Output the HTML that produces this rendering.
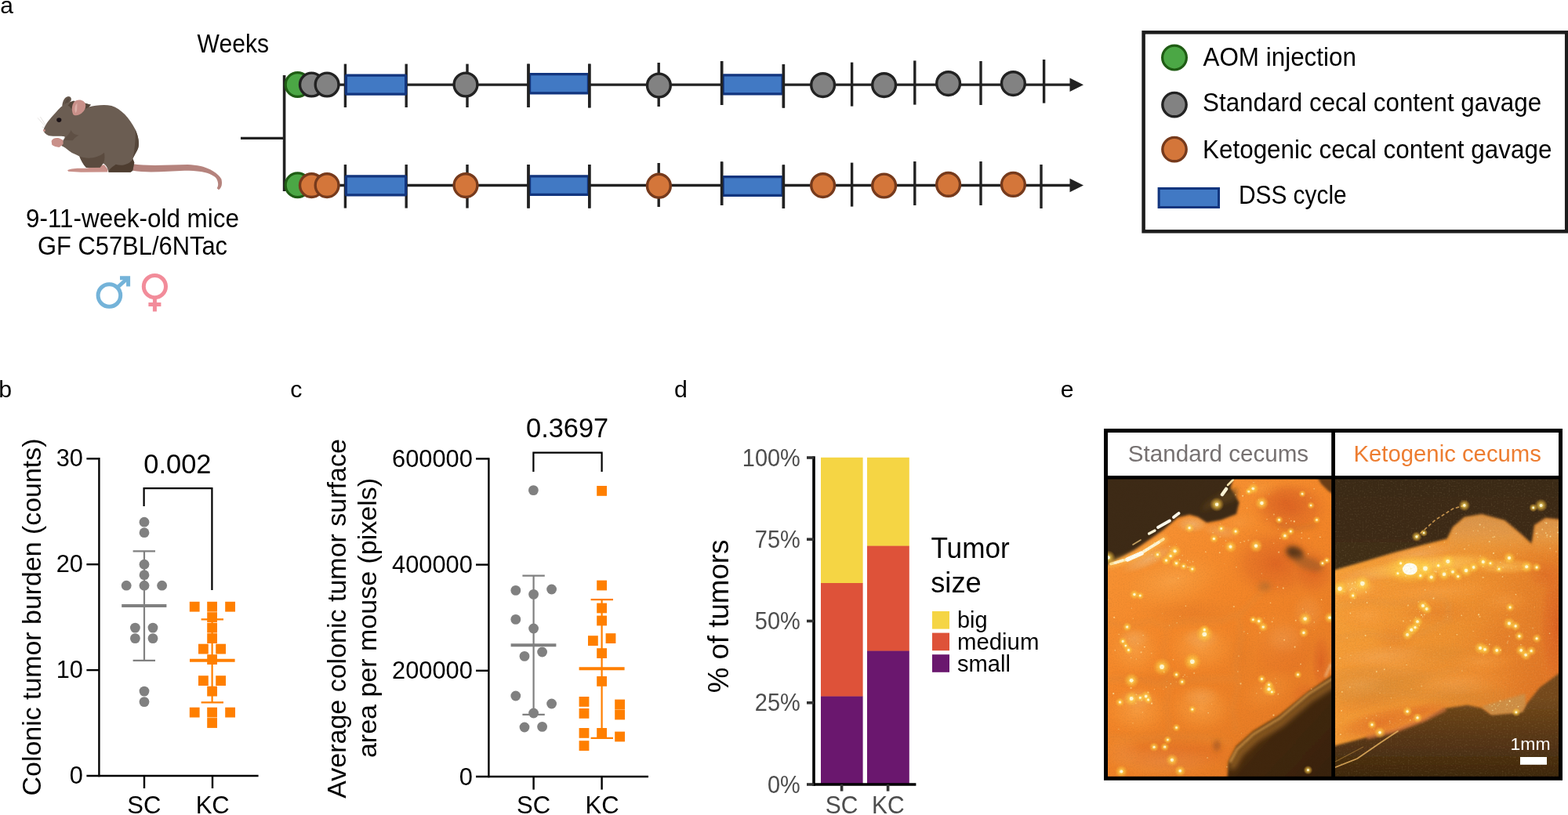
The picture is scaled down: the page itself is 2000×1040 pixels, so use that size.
<!DOCTYPE html>
<html lang="en">
<head>
<meta charset="utf-8">
<title>Cecal content gavage and colonic tumor burden</title>
<style>
html,body{margin:0;padding:0;background:#ffffff;}
body{width:2000px;height:1040px;overflow:hidden;}
svg{display:block;}
text{font-family:"Liberation Sans",Arial,Helvetica,sans-serif;}
</style>
</head>
<body>
<svg width="2000" height="1040" viewBox="0 0 2000 1040">
<rect x="0" y="0" width="2000" height="1040" fill="#ffffff"/>
<g id="panel-labels">
<text x="0.2" y="16.5" font-size="30" fill="#000">a</text>
<text x="-1.7" y="507" font-size="30.3" fill="#000">b</text>
<text x="370.2" y="507" font-size="30.3" fill="#000">c</text>
<text x="860" y="507" font-size="30.3" fill="#000">d</text>
<text x="1352.8" y="507" font-size="30.3" fill="#000">e</text>
</g>
<g id="mouse" transform="translate(40 110) scale(0.13465)">
<path d="M955 735 C1100 760 1300 745 1480 742 C1640 745 1760 810 1800 880 C1812 930 1800 965 1775 982 L1758 968 C1775 940 1772 905 1750 870 C1700 820 1600 800 1450 800 C1300 805 1100 825 960 800 Z" fill="#B5837D"/>
<path d="M342 797 C380 775 450 778 520 778 L690 745 L725 790 L722 814 L470 816 L350 808 Z" fill="#C99089"/>
<path d="M292 185 C295 140 315 100 350 96 C378 96 382 120 374 140 L330 190 Z" fill="#64564B"/>
<path d="M318 170 C322 140 335 118 352 112 C362 116 362 130 355 142 L335 175 Z" fill="#584A3F"/>
<path d="M115 415 C125 370 180 300 230 250 C260 215 290 185 330 160 L400 140 L520 165 L562 176 L545 196 C600 185 680 170 760 185 C850 215 930 300 985 410 C1015 480 1025 540 1012 585 C995 630 970 660 962 690 L975 725 L960 800 L940 816 L732 816 C725 790 722 760 680 730 L650 770 L520 772 C490 745 470 700 455 665 C430 650 390 640 360 615 C335 595 310 575 285 565 L300 515 C310 500 320 490 315 478 C280 470 210 478 170 470 C140 458 118 440 115 415 Z" fill="#6B5D52"/>
<path d="M455 665 C520 690 620 690 690 630 C700 680 690 720 680 735 L650 770 L520 772 C490 745 470 700 455 665 Z" fill="#55463A" opacity="0.75"/>
<path d="M732 816 C730 790 760 770 800 740 C860 760 930 740 962 690 L975 725 L960 800 L940 816 Z" fill="#4E3D30"/>
<path d="M985 410 C1015 480 1025 540 1012 585 C995 630 970 660 962 690 C975 610 990 520 985 410 Z" fill="#55463A"/>
<path d="M330 480 C360 450 370 430 375 415 C390 450 420 460 450 465 C420 480 400 505 390 515 L310 510 Z" fill="#55463A" opacity="0.55"/>
<path d="M372 150 L405 138 L398 200 L380 215 L360 190 L345 185 Z" fill="#55463A"/>
<path d="M505 160 L565 176 L540 200 L510 215 Z" fill="#55463A"/>
<path d="M395 265 C375 220 385 160 420 138 C460 118 505 135 514 175 C518 215 490 255 450 272 C430 280 405 280 395 265 Z" fill="#C99089"/>
<path d="M420 255 C405 220 410 180 435 160 C430 195 440 225 420 255 Z" fill="#DDB0A8"/>
<path d="M190 520 C200 495 230 485 262 492 L300 510 L302 545 C290 560 275 570 262 580 C240 575 210 570 195 555 Z" fill="#C99089"/>
<circle cx="122" cy="420" r="11" fill="#C99089"/>
<ellipse cx="262" cy="320" rx="23" ry="21" fill="#1a1216"/>
<path d="M130 380 L60 300 M135 370 L85 290 M128 395 L100 385" stroke="#b0a8a0" stroke-width="4" fill="none" opacity="0.6"/>
</g>
<g id="panel-a-text">
<text x="251.6" y="67" font-size="32.8" fill="#000" textLength="91.4" lengthAdjust="spacingAndGlyphs">Weeks</text>
<text x="169" y="290" font-size="32.6" fill="#000" text-anchor="middle" textLength="272" lengthAdjust="spacingAndGlyphs">9-11-week-old mice</text>
<text x="169" y="325" font-size="32.6" fill="#000" text-anchor="middle" textLength="242" lengthAdjust="spacingAndGlyphs">GF C57BL/6NTac</text>
</g>
<g id="sex-symbols" fill="none" stroke-linecap="butt">
<circle cx="139.4" cy="377" r="14.3" stroke="#74B3D9" stroke-width="5"/>
<path d="M149.5 367 L163.5 354.5" stroke="#74B3D9" stroke-width="5"/>
<path d="M153 354.8 H163.6 V365.5" stroke="#74B3D9" stroke-width="5" stroke-linejoin="miter"/>
<circle cx="197.4" cy="365.6" r="14.1" stroke="#F28C9A" stroke-width="5"/>
<path d="M197.4 379.5 V397.6 M189.4 388.6 H205.4" stroke="#F28C9A" stroke-width="5"/>
</g>
<g id="timeline" stroke-linecap="butt">
<path d="M307 176.4 H362.6" stroke="#222222" stroke-width="3.4" fill="none"/>
<path d="M362.6 96 V244" stroke="#222222" stroke-width="3.6" fill="none"/>
<path d="M362.6 108.2 H1366" stroke="#222222" stroke-width="3.3" fill="none"/>
<path d="M1364.5 99.4 L1382 108.2 L1364.5 117.0 Z" fill="#222222"/>
<path d="M440.4 81.6 V137" stroke="#222222" stroke-width="3.4" fill="none"/>
<path d="M518.2 81.6 V137" stroke="#222222" stroke-width="3.4" fill="none"/>
<path d="M596 81.6 V137" stroke="#222222" stroke-width="3.4" fill="none"/>
<path d="M674 81.6 V137" stroke="#222222" stroke-width="3.4" fill="none"/>
<path d="M751.8 81.6 V137.4" stroke="#222222" stroke-width="3.4" fill="none"/>
<path d="M840.2 80 V136" stroke="#222222" stroke-width="3.4" fill="none"/>
<path d="M920.6 78 V134" stroke="#222222" stroke-width="3.4" fill="none"/>
<path d="M999.4 82 V137.6" stroke="#222222" stroke-width="3.4" fill="none"/>
<path d="M1086.6 79.6 V135.6" stroke="#222222" stroke-width="3.4" fill="none"/>
<path d="M1166.8 77.4 V133.6" stroke="#222222" stroke-width="3.4" fill="none"/>
<path d="M1251 78 V134" stroke="#222222" stroke-width="3.4" fill="none"/>
<path d="M1331.6 76 V131.6" stroke="#222222" stroke-width="3.4" fill="none"/>
<rect x="441.4" y="96.1" width="76.2" height="24.1" rx="1" fill="#4179C4" stroke="#12357E" stroke-width="3.2"/>
<rect x="675.6" y="94.7" width="74.8" height="24.1" rx="1" fill="#4179C4" stroke="#12357E" stroke-width="3.2"/>
<rect x="922.2" y="95.8" width="75.8" height="24.0" rx="1" fill="#4179C4" stroke="#12357E" stroke-width="3.2"/>
<path d="M674 81.6 V137" stroke="#222222" stroke-width="3.4" fill="none"/>
<path d="M751.8 81.6 V137.4" stroke="#222222" stroke-width="3.4" fill="none"/>
<path d="M920.6 78 V134" stroke="#222222" stroke-width="3.4" fill="none"/>
<path d="M999.4 82 V137.6" stroke="#222222" stroke-width="3.4" fill="none"/>
<circle cx="379.6" cy="108.0" r="15.4" fill="#4BA745" stroke="#1F5C14" stroke-width="3.2"/>
<circle cx="397.4" cy="108" r="14.9" fill="#828282" stroke="#222222" stroke-width="3.4"/>
<circle cx="417.1" cy="108" r="14.9" fill="#828282" stroke="#222222" stroke-width="3.4"/>
<circle cx="594" cy="108" r="14.9" fill="#828282" stroke="#222222" stroke-width="3.4"/>
<circle cx="840.4" cy="109" r="14.9" fill="#828282" stroke="#222222" stroke-width="3.4"/>
<circle cx="1049.6" cy="108.6" r="14.9" fill="#828282" stroke="#222222" stroke-width="3.4"/>
<circle cx="1127.6" cy="108.6" r="14.9" fill="#828282" stroke="#222222" stroke-width="3.4"/>
<circle cx="1209.6" cy="106.6" r="14.9" fill="#828282" stroke="#222222" stroke-width="3.4"/>
<circle cx="1292.4" cy="106.6" r="14.9" fill="#828282" stroke="#222222" stroke-width="3.4"/>
<path d="M362.6 236.5 H1366" stroke="#222222" stroke-width="3.3" fill="none"/>
<path d="M1364.5 227.7 L1382 236.5 L1364.5 245.3 Z" fill="#222222"/>
<path d="M440.4 210 V265.6" stroke="#222222" stroke-width="3.4" fill="none"/>
<path d="M518.2 210 V265.6" stroke="#222222" stroke-width="3.4" fill="none"/>
<path d="M596 210 V265.6" stroke="#222222" stroke-width="3.4" fill="none"/>
<path d="M674 210 V265.6" stroke="#222222" stroke-width="3.4" fill="none"/>
<path d="M751.8 210 V265.6" stroke="#222222" stroke-width="3.4" fill="none"/>
<path d="M840.2 208 V264" stroke="#222222" stroke-width="3.4" fill="none"/>
<path d="M920.6 206.4 V262" stroke="#222222" stroke-width="3.4" fill="none"/>
<path d="M999.4 210.4 V266" stroke="#222222" stroke-width="3.4" fill="none"/>
<path d="M1086.6 207.6 V263.6" stroke="#222222" stroke-width="3.4" fill="none"/>
<path d="M1166.8 206 V262" stroke="#222222" stroke-width="3.4" fill="none"/>
<path d="M1251 206 V262" stroke="#222222" stroke-width="3.4" fill="none"/>
<path d="M1328 210 V266" stroke="#222222" stroke-width="3.4" fill="none"/>
<rect x="441.4" y="224.8" width="76.2" height="24.0" rx="1" fill="#4179C4" stroke="#12357E" stroke-width="3.2"/>
<rect x="675.6" y="224.8" width="74.8" height="23.6" rx="1" fill="#4179C4" stroke="#12357E" stroke-width="3.2"/>
<rect x="922.2" y="225.6" width="75.8" height="23.8" rx="1" fill="#4179C4" stroke="#12357E" stroke-width="3.2"/>
<path d="M674 210 V265.6" stroke="#222222" stroke-width="3.4" fill="none"/>
<path d="M751.8 210 V265.6" stroke="#222222" stroke-width="3.4" fill="none"/>
<path d="M920.6 206.4 V262" stroke="#222222" stroke-width="3.4" fill="none"/>
<path d="M999.4 210.4 V266" stroke="#222222" stroke-width="3.4" fill="none"/>
<circle cx="379.6" cy="236.3" r="15.4" fill="#4BA745" stroke="#1F5C14" stroke-width="3.2"/>
<circle cx="397.4" cy="236.6" r="14.9" fill="#D4763A" stroke="#763A1C" stroke-width="3.4"/>
<circle cx="417.1" cy="236.6" r="14.9" fill="#D4763A" stroke="#763A1C" stroke-width="3.4"/>
<circle cx="594" cy="236.6" r="14.9" fill="#D4763A" stroke="#763A1C" stroke-width="3.4"/>
<circle cx="840.4" cy="237.2" r="14.9" fill="#D4763A" stroke="#763A1C" stroke-width="3.4"/>
<circle cx="1049.6" cy="236.6" r="14.9" fill="#D4763A" stroke="#763A1C" stroke-width="3.4"/>
<circle cx="1127.6" cy="237" r="14.9" fill="#D4763A" stroke="#763A1C" stroke-width="3.4"/>
<circle cx="1209.6" cy="235.4" r="14.9" fill="#D4763A" stroke="#763A1C" stroke-width="3.4"/>
<circle cx="1292.4" cy="235.4" r="14.9" fill="#D4763A" stroke="#763A1C" stroke-width="3.4"/>
</g>
<g id="legend-a">
<rect x="1458.6" y="41.3" width="539.6" height="254" fill="#fff" stroke="#1c1c1c" stroke-width="4.5"/>
<circle cx="1498" cy="73.6" r="15.4" fill="#4BA745" stroke="#1F5C14" stroke-width="3.2"/>
<circle cx="1498" cy="133.6" r="15.2" fill="#828282" stroke="#222222" stroke-width="3.4"/>
<circle cx="1498" cy="190.6" r="15.2" fill="#D4763A" stroke="#763A1C" stroke-width="3.4"/>
<rect x="1478.1" y="240.5" width="76.4" height="24" fill="#4179C4" stroke="#12357E" stroke-width="3"/>
<text x="1534.5" y="84" font-size="32.6" fill="#000" textLength="195.4" lengthAdjust="spacingAndGlyphs">AOM injection</text>
<text x="1534.1" y="142.4" font-size="32.6" fill="#000" textLength="432" lengthAdjust="spacingAndGlyphs">Standard cecal content gavage</text>
<text x="1534" y="201.6" font-size="32.6" fill="#000" textLength="445.4" lengthAdjust="spacingAndGlyphs">Ketogenic cecal content gavage</text>
<text x="1579.9" y="259.6" font-size="32.6" fill="#000" textLength="137.8" lengthAdjust="spacingAndGlyphs">DSS cycle</text>
</g>
<g id="panel-b">
<path d="M126.4 584.1 V991.2" stroke="#000" stroke-width="2.4" fill="none"/>
<path d="M110.4 990.0 H329.6" stroke="#000" stroke-width="2.4" fill="none"/>
<path d="M110.4 585.3 H126.4" stroke="#000" stroke-width="2.4" fill="none"/>
<path d="M110.4 720.2 H126.4" stroke="#000" stroke-width="2.4" fill="none"/>
<path d="M110.4 855.1 H126.4" stroke="#000" stroke-width="2.4" fill="none"/>
<text x="105.8" y="595.2" font-size="30.7" fill="#000" text-anchor="end">30</text>
<text x="105.8" y="730.1" font-size="30.7" fill="#000" text-anchor="end">20</text>
<text x="105.8" y="865.0" font-size="30.7" fill="#000" text-anchor="end">10</text>
<text x="105.8" y="999.9" font-size="30.7" fill="#000" text-anchor="end">0</text>
<path d="M184 990.0 V1006" stroke="#000" stroke-width="2.4" fill="none"/>
<path d="M271 990.0 V1006" stroke="#000" stroke-width="2.4" fill="none"/>
<text x="183.8" y="1037.8" font-size="31" fill="#000" text-anchor="middle">SC</text>
<text x="271.2" y="1037.8" font-size="31" fill="#000" text-anchor="middle">KC</text>
<text transform="translate(52.4 787.5) rotate(-90)" font-size="33.9" fill="#000" text-anchor="middle">Colonic tumor burden (counts)</text>
<text x="226.4" y="603.6" font-size="34.4" fill="#000" text-anchor="middle">0.002</text>
<path d="M183.6 646 V623.2 H270.4 V753" stroke="#000" stroke-width="2.2" fill="none" stroke-linejoin="miter"/>
<path d="M184 703.4 V842.8 M169.6 703.4 H198 M169.6 842.8 H198" stroke="#808080" stroke-width="2.2" fill="none"/>
<path d="M155.2 773 H212.4" stroke="#808080" stroke-width="4" fill="none"/>
<circle cx="184" cy="666.2" r="6.4" fill="#808080"/>
<circle cx="184" cy="679.7" r="6.4" fill="#808080"/>
<circle cx="184" cy="720.2" r="6.4" fill="#808080"/>
<circle cx="184" cy="733.7" r="6.4" fill="#808080"/>
<circle cx="161.2" cy="747.2" r="6.4" fill="#808080"/>
<circle cx="184" cy="747.2" r="6.4" fill="#808080"/>
<circle cx="206.6" cy="747.2" r="6.4" fill="#808080"/>
<circle cx="172.4" cy="801.1" r="6.4" fill="#808080"/>
<circle cx="195" cy="801.1" r="6.4" fill="#808080"/>
<circle cx="172.4" cy="814.6" r="6.4" fill="#808080"/>
<circle cx="195" cy="814.6" r="6.4" fill="#808080"/>
<circle cx="184" cy="882.1" r="6.4" fill="#808080"/>
<circle cx="184" cy="895.6" r="6.4" fill="#808080"/>
<path d="M270.6 790.4 V896.4 M256.6 790.4 H285 M256.6 896.4 H285" stroke="#FF7F00" stroke-width="2.2" fill="none"/>
<path d="M242 842.8 H299.6" stroke="#FF7F00" stroke-width="4" fill="none"/>
<rect x="241.8" y="767.8" width="12.8" height="12.8" fill="#FF7F00"/>
<rect x="264.2" y="767.8" width="12.8" height="12.8" fill="#FF7F00"/>
<rect x="287.2" y="767.8" width="12.8" height="12.8" fill="#FF7F00"/>
<rect x="264.2" y="781.2" width="12.8" height="12.8" fill="#FF7F00"/>
<rect x="264.2" y="794.7" width="12.8" height="12.8" fill="#FF7F00"/>
<rect x="264.2" y="808.2" width="12.8" height="12.8" fill="#FF7F00"/>
<rect x="253.0" y="821.7" width="12.8" height="12.8" fill="#FF7F00"/>
<rect x="275.2" y="821.7" width="12.8" height="12.8" fill="#FF7F00"/>
<rect x="264.2" y="835.2" width="12.8" height="12.8" fill="#FF7F00"/>
<rect x="253.0" y="862.2" width="12.8" height="12.8" fill="#FF7F00"/>
<rect x="275.2" y="862.2" width="12.8" height="12.8" fill="#FF7F00"/>
<rect x="264.2" y="875.7" width="12.8" height="12.8" fill="#FF7F00"/>
<rect x="241.8" y="902.7" width="12.8" height="12.8" fill="#FF7F00"/>
<rect x="264.2" y="902.7" width="12.8" height="12.8" fill="#FF7F00"/>
<rect x="287.2" y="902.7" width="12.8" height="12.8" fill="#FF7F00"/>
<rect x="264.2" y="916.1" width="12.8" height="12.8" fill="#FF7F00"/>
</g>
<g id="panel-c">
<path d="M623.4 584.2 V992.2" stroke="#000" stroke-width="2.4" fill="none"/>
<path d="M607 991.0 H827" stroke="#000" stroke-width="2.4" fill="none"/>
<path d="M607 585.4 H623.4" stroke="#000" stroke-width="2.4" fill="none"/>
<path d="M607 720.6 H623.4" stroke="#000" stroke-width="2.4" fill="none"/>
<path d="M607 855.8 H623.4" stroke="#000" stroke-width="2.4" fill="none"/>
<text x="602.8" y="595.9" font-size="30.8" fill="#000" text-anchor="end">600000</text>
<text x="602.8" y="731.1" font-size="30.8" fill="#000" text-anchor="end">400000</text>
<text x="602.8" y="866.3" font-size="30.8" fill="#000" text-anchor="end">200000</text>
<text x="602.8" y="1001.5" font-size="30.8" fill="#000" text-anchor="end">0</text>
<path d="M680.6 991.0 V1007.6" stroke="#000" stroke-width="2.4" fill="none"/>
<path d="M767.6 991.0 V1007.6" stroke="#000" stroke-width="2.4" fill="none"/>
<text x="680.6" y="1037.6" font-size="31" fill="#000" text-anchor="middle">SC</text>
<text x="768" y="1037.6" font-size="31" fill="#000" text-anchor="middle">KC</text>
<text transform="translate(441 789.5) rotate(-90)" font-size="34" fill="#000" text-anchor="middle">Average colonic tumor surface</text>
<text transform="translate(480.4 788.5) rotate(-90)" font-size="34" fill="#000" text-anchor="middle">area per mouse (pixels)</text>
<text x="723.6" y="558" font-size="34.4" fill="#000" text-anchor="middle">0.3697</text>
<path d="M680.4 602 V577.6 H767.6 V602" stroke="#000" stroke-width="2.2" fill="none" stroke-linejoin="miter"/>
<path d="M680.6 734.6 V911.8 M666.4 734.6 H694.8 M666.4 911.8 H694.8" stroke="#808080" stroke-width="2.2" fill="none"/>
<path d="M651.6 823.2 H709.4" stroke="#808080" stroke-width="4" fill="none"/>
<circle cx="680.4" cy="625.6" r="6.4" fill="#808080"/>
<circle cx="657.8" cy="753.4" r="6.4" fill="#808080"/>
<circle cx="680.6" cy="758.4" r="6.4" fill="#808080"/>
<circle cx="703.6" cy="752" r="6.4" fill="#808080"/>
<circle cx="657.8" cy="790.4" r="6.4" fill="#808080"/>
<circle cx="680.6" cy="802" r="6.4" fill="#808080"/>
<circle cx="691.6" cy="832" r="6.4" fill="#808080"/>
<circle cx="669" cy="837.4" r="6.4" fill="#808080"/>
<circle cx="657.8" cy="888" r="6.4" fill="#808080"/>
<circle cx="703.6" cy="898" r="6.4" fill="#808080"/>
<circle cx="680.6" cy="910" r="6.4" fill="#808080"/>
<circle cx="669" cy="928" r="6.4" fill="#808080"/>
<circle cx="691.6" cy="927.4" r="6.4" fill="#808080"/>
<path d="M767.6 765.2 V941.8 M753.6 765.2 H782 M753.6 941.8 H782" stroke="#FF7F00" stroke-width="2.2" fill="none"/>
<path d="M738.6 853.2 H796.6" stroke="#FF7F00" stroke-width="4" fill="none"/>
<rect x="761.2" y="620.0" width="12.8" height="12.8" fill="#FF7F00"/>
<rect x="761.2" y="740.6" width="12.8" height="12.8" fill="#FF7F00"/>
<rect x="761.2" y="769.6" width="12.8" height="12.8" fill="#FF7F00"/>
<rect x="761.2" y="785.6" width="12.8" height="12.8" fill="#FF7F00"/>
<rect x="750.0" y="811.2" width="12.8" height="12.8" fill="#FF7F00"/>
<rect x="772.6" y="808.2" width="12.8" height="12.8" fill="#FF7F00"/>
<rect x="761.2" y="827.2" width="12.8" height="12.8" fill="#FF7F00"/>
<rect x="761.2" y="863.0" width="12.8" height="12.8" fill="#FF7F00"/>
<rect x="738.6" y="889.0" width="12.8" height="12.8" fill="#FF7F00"/>
<rect x="738.6" y="904.0" width="12.8" height="12.8" fill="#FF7F00"/>
<rect x="784.2" y="892.6" width="12.8" height="12.8" fill="#FF7F00"/>
<rect x="784.2" y="905.6" width="12.8" height="12.8" fill="#FF7F00"/>
<rect x="738.6" y="929.0" width="12.8" height="12.8" fill="#FF7F00"/>
<rect x="761.2" y="929.0" width="12.8" height="12.8" fill="#FF7F00"/>
<rect x="784.2" y="933.6" width="12.8" height="12.8" fill="#FF7F00"/>
<rect x="738.6" y="945.2" width="12.8" height="12.8" fill="#FF7F00"/>
</g>
<g id="panel-d">
<rect x="1047" y="583.8" width="53.6" height="160.5" fill="#F5D544"/>
<rect x="1047" y="744.0" width="53.6" height="144.9" fill="#DE5239"/>
<rect x="1047" y="888.6" width="53.6" height="112.7" fill="#6A176E"/>
<rect x="1106" y="583.8" width="53.8" height="113.1" fill="#F5D544"/>
<rect x="1106" y="696.6" width="53.8" height="134.3" fill="#DE5239"/>
<rect x="1106" y="830.6" width="53.8" height="170.7" fill="#6A176E"/>
<path d="M1038 582.2 V1002.8" stroke="#000" stroke-width="3.6" fill="none"/>
<path d="M1036.2 1001.0 H1168.4" stroke="#000" stroke-width="3.6" fill="none"/>
<path d="M1029 584.0 H1038" stroke="#333" stroke-width="3.6" fill="none"/>
<text x="1020.8" y="594.5" font-size="31.3" fill="#4D4D4D" text-anchor="end" textLength="74.0" lengthAdjust="spacingAndGlyphs">100%</text>
<path d="M1029 688.2 H1038" stroke="#333" stroke-width="3.6" fill="none"/>
<text x="1020.8" y="698.8" font-size="31.3" fill="#4D4D4D" text-anchor="end" textLength="58.0" lengthAdjust="spacingAndGlyphs">75%</text>
<path d="M1029 792.5 H1038" stroke="#333" stroke-width="3.6" fill="none"/>
<text x="1020.8" y="803.0" font-size="31.3" fill="#4D4D4D" text-anchor="end" textLength="58.0" lengthAdjust="spacingAndGlyphs">50%</text>
<path d="M1029 896.8 H1038" stroke="#333" stroke-width="3.6" fill="none"/>
<text x="1020.8" y="907.2" font-size="31.3" fill="#4D4D4D" text-anchor="end" textLength="58.0" lengthAdjust="spacingAndGlyphs">25%</text>
<path d="M1029 1001.0 H1038" stroke="#333" stroke-width="3.6" fill="none"/>
<text x="1020.8" y="1011.5" font-size="31.3" fill="#4D4D4D" text-anchor="end" textLength="41.8" lengthAdjust="spacingAndGlyphs">0%</text>
<path d="M1073.6 1001.0 V1009.6" stroke="#333" stroke-width="3.6" fill="none"/>
<path d="M1132.6 1001.0 V1009.6" stroke="#333" stroke-width="3.6" fill="none"/>
<text x="1073.6" y="1037.7" font-size="31.3" fill="#4D4D4D" text-anchor="middle" textLength="41.7" lengthAdjust="spacingAndGlyphs">SC</text>
<text x="1132.8" y="1037.7" font-size="31.3" fill="#4D4D4D" text-anchor="middle" textLength="41.7" lengthAdjust="spacingAndGlyphs">KC</text>
<text transform="translate(929.4 786.5) rotate(-90)" font-size="36.7" fill="#000" text-anchor="middle">% of tumors</text>
<text x="1187.4" y="712" font-size="36" fill="#000" textLength="100.4" lengthAdjust="spacingAndGlyphs">Tumor</text>
<text x="1187.2" y="756" font-size="36" fill="#000" textLength="64.6" lengthAdjust="spacingAndGlyphs">size</text>
<rect x="1189" y="780.0" width="22" height="22.6" fill="#F5D544"/>
<text x="1221" y="801" font-size="28.6" fill="#000" textLength="38.6" lengthAdjust="spacingAndGlyphs">big</text>
<rect x="1189" y="807.6" width="22" height="22.6" fill="#DE5239"/>
<text x="1221" y="829" font-size="28.6" fill="#000" textLength="104.4" lengthAdjust="spacingAndGlyphs">medium</text>
<rect x="1189" y="835.2" width="22" height="22.6" fill="#6A176E"/>
<text x="1221" y="857" font-size="28.6" fill="#000" textLength="68.0" lengthAdjust="spacingAndGlyphs">small</text>
</g>
<g id="panel-e">
<defs>
<clipPath id="clipL"><rect x="1412.5" y="611" width="286.5" height="381"/></clipPath>
<clipPath id="clipR"><rect x="1702.5" y="611" width="286.5" height="381"/></clipPath>
<filter id="bl1" filterUnits="userSpaceOnUse" x="1400" y="600" width="600" height="400"><feGaussianBlur stdDeviation="0.7"/></filter>
<filter id="bl2" filterUnits="userSpaceOnUse" x="1400" y="600" width="600" height="400"><feGaussianBlur stdDeviation="1.6"/></filter>
<filter id="bl3" filterUnits="userSpaceOnUse" x="1400" y="600" width="600" height="400"><feGaussianBlur stdDeviation="3"/></filter>
<filter id="bl5" filterUnits="userSpaceOnUse" x="1400" y="600" width="600" height="400"><feGaussianBlur stdDeviation="5"/></filter>
<filter id="grain" filterUnits="userSpaceOnUse" x="1400" y="600" width="600" height="400">
<feTurbulence type="fractalNoise" baseFrequency="0.6" numOctaves="2" seed="11" result="n"/>
<feColorMatrix in="n" type="matrix" values="0 0 0 0 0.08  0 0 0 0 0.05  0 0 0 0 0.02  1.6 1.6 0 0 -1.45"/>
</filter>
<filter id="grainL" filterUnits="userSpaceOnUse" x="1400" y="600" width="600" height="400">
<feTurbulence type="fractalNoise" baseFrequency="0.5" numOctaves="2" seed="3" result="n"/>
<feColorMatrix in="n" type="matrix" values="0 0 0 0 1  0 0 0 0 0.85  0 0 0 0 0.5  1.5 1.5 0 0 -1.5"/>
</filter>
<linearGradient id="gL" gradientUnits="userSpaceOnUse" x1="1413" y1="640" x2="1698" y2="960">
<stop offset="0" stop-color="#F99838"/><stop offset="0.45" stop-color="#F48628"/><stop offset="1" stop-color="#E27824"/>
</linearGradient>
<linearGradient id="gR" gradientUnits="userSpaceOnUse" x1="1703" y1="700" x2="1988" y2="800">
<stop offset="0" stop-color="#F7A038"/><stop offset="0.6" stop-color="#EE902E"/><stop offset="1" stop-color="#E27826"/>
</linearGradient>
<linearGradient id="dkBR" gradientUnits="userSpaceOnUse" x1="1590" y1="900" x2="1690" y2="990">
<stop offset="0" stop-color="#6A3E12"/><stop offset="0.4" stop-color="#41270F"/><stop offset="1" stop-color="#38220E"/>
</linearGradient>
<linearGradient id="dkRB" gradientUnits="userSpaceOnUse" x1="0" y1="890" x2="0" y2="992">
<stop offset="0" stop-color="#744A1C"/><stop offset="0.45" stop-color="#5A3814"/><stop offset="1" stop-color="#3E280F"/>
</linearGradient>
<linearGradient id="dkRT" gradientUnits="userSpaceOnUse" x1="0" y1="611" x2="0" y2="720">
<stop offset="0" stop-color="#3A2A16"/><stop offset="1" stop-color="#402D16"/>
</linearGradient>
<radialGradient id="lobe"><stop offset="0" stop-color="#FAA448" stop-opacity="0.8"/><stop offset="0.55" stop-color="#F79838" stop-opacity="0.5"/><stop offset="1" stop-color="#F48C2C" stop-opacity="0"/></radialGradient>
<radialGradient id="lobeC"><stop offset="0" stop-color="#F2B470" stop-opacity="0.85"/><stop offset="0.6" stop-color="#F2A656" stop-opacity="0.6"/><stop offset="1" stop-color="#F29840" stop-opacity="0"/></radialGradient>
<radialGradient id="lobeY"><stop offset="0" stop-color="#FFCC60" stop-opacity="1"/><stop offset="0.6" stop-color="#FBB448" stop-opacity="0.8"/><stop offset="1" stop-color="#F6A238" stop-opacity="0"/></radialGradient>
<radialGradient id="redz"><stop offset="0" stop-color="#DC6222" stop-opacity="0.95"/><stop offset="0.6" stop-color="#E26E26" stop-opacity="0.6"/><stop offset="1" stop-color="#EA802A" stop-opacity="0"/></radialGradient>
<radialGradient id="oran"><stop offset="0" stop-color="#E47A28" stop-opacity="0.9"/><stop offset="0.6" stop-color="#E8822A" stop-opacity="0.55"/><stop offset="1" stop-color="#EE8A2E" stop-opacity="0"/></radialGradient>
<linearGradient id="blob" gradientUnits="userSpaceOnUse" x1="0" y1="655" x2="0" y2="712">
<stop offset="0" stop-color="#D8934A"/><stop offset="0.5" stop-color="#E69A46"/><stop offset="1" stop-color="#F09C3C" stop-opacity="0"/>
</linearGradient>
<radialGradient id="brn"><stop offset="0" stop-color="#D68A34" stop-opacity="0.9"/><stop offset="0.6" stop-color="#DC8C34" stop-opacity="0.55"/><stop offset="1" stop-color="#E49034" stop-opacity="0"/></radialGradient>
<radialGradient id="glow"><stop offset="0" stop-color="#FFEE90" stop-opacity="0.95"/><stop offset="0.45" stop-color="#FFD048" stop-opacity="0.6"/><stop offset="1" stop-color="#FFB430" stop-opacity="0"/></radialGradient>
</defs>
<rect x="1410.5" y="549.5" width="580" height="443.8" fill="#ffffff"/>
<g clip-path="url(#clipL)">
<rect x="1410" y="608" width="292" height="388" fill="url(#gL)"/>
<ellipse cx="1627.8" cy="718.8" rx="62.8" ry="48.0" fill="url(#redz)" opacity="0.9" transform="rotate(0 1627.8 718.8)"/>
<ellipse cx="1646.3" cy="648.6" rx="51.7" ry="36.9" fill="url(#redz)" opacity="1" transform="rotate(0 1646.3 648.6)"/>
<ellipse cx="1638.9" cy="641.2" rx="40.6" ry="25.8" fill="url(#redz)" opacity="0.7" transform="rotate(0 1638.9 641.2)"/>
<ellipse cx="1675.8" cy="729.8" rx="29.5" ry="33.2" fill="url(#redz)" opacity="0.8" transform="rotate(0 1675.8 729.8)"/>
<ellipse cx="1685.0" cy="844.3" rx="14.8" ry="40.6" fill="url(#redz)" opacity="0.9" transform="rotate(0 1685.0 844.3)"/>
<ellipse cx="1664.7" cy="888.6" rx="22.2" ry="22.2" fill="url(#redz)" opacity="0.5" transform="rotate(-30 1664.7 888.6)"/>
<ellipse cx="1494.9" cy="962.4" rx="96.0" ry="25.8" fill="url(#redz)" opacity="0.6" transform="rotate(0 1494.9 962.4)"/>
<ellipse cx="1638.9" cy="829.5" rx="48.0" ry="44.3" fill="url(#redz)" opacity="0.45" transform="rotate(0 1638.9 829.5)"/>
<ellipse cx="1520.8" cy="781.5" rx="73.8" ry="22.2" fill="url(#oran)" opacity="0.6" transform="rotate(0 1520.8 781.5)"/>
<ellipse cx="1583.5" cy="836.9" rx="22.2" ry="44.3" fill="url(#oran)" opacity="0.5" transform="rotate(0 1583.5 836.9)"/>
<ellipse cx="1483.8" cy="866.4" rx="81.2" ry="14.8" fill="url(#oran)" opacity="0.5" transform="rotate(0 1483.8 866.4)"/>
<ellipse cx="1494.9" cy="940.3" rx="73.8" ry="14.8" fill="url(#oran)" opacity="0.4" transform="rotate(0 1494.9 940.3)"/>
<ellipse cx="1494.9" cy="740.9" rx="77.5" ry="38.8" fill="url(#lobe)" opacity="1" transform="rotate(-12 1494.9 740.9)"/>
<ellipse cx="1446.9" cy="829.5" rx="36.9" ry="35.1" fill="url(#lobe)" opacity="0.9" transform="rotate(0 1446.9 829.5)"/>
<ellipse cx="1531.8" cy="825.8" rx="48.0" ry="35.1" fill="url(#lobe)" opacity="0.9" transform="rotate(0 1531.8 825.8)"/>
<ellipse cx="1450.6" cy="907.0" rx="44.3" ry="33.2" fill="url(#lobe)" opacity="0.9" transform="rotate(0 1450.6 907.0)"/>
<ellipse cx="1531.8" cy="903.4" rx="44.3" ry="33.2" fill="url(#lobe)" opacity="0.9" transform="rotate(0 1531.8 903.4)"/>
<ellipse cx="1631.5" cy="814.7" rx="44.3" ry="40.6" fill="url(#lobe)" opacity="0.4" transform="rotate(0 1631.5 814.7)"/>
<ellipse cx="1616.7" cy="881.2" rx="40.6" ry="25.8" fill="url(#lobe)" opacity="0.45" transform="rotate(-30 1616.7 881.2)"/>
<ellipse cx="1579.8" cy="667.1" rx="33.2" ry="18.5" fill="url(#lobe)" opacity="0.5" transform="rotate(-10 1579.8 667.1)"/>
<ellipse cx="1605.7" cy="622.8" rx="29.5" ry="14.8" fill="url(#lobe)" opacity="0.4" transform="rotate(0 1605.7 622.8)"/>
<ellipse cx="1520.8" cy="668.9" rx="22.2" ry="11.8" fill="url(#lobeC)" opacity="1" transform="rotate(0 1520.8 668.9)"/>
<ellipse cx="1465.4" cy="713.2" rx="40.6" ry="11.1" fill="url(#lobeC)" opacity="1" transform="rotate(-24 1465.4 713.2)"/>
<ellipse cx="1557.7" cy="678.1" rx="25.8" ry="10.3" fill="url(#lobeC)" opacity="0.6" transform="rotate(10 1557.7 678.1)"/>
<ellipse cx="1668.4" cy="781.5" rx="22.2" ry="25.8" fill="url(#lobeC)" opacity="0.3" transform="rotate(0 1668.4 781.5)"/>
<ellipse cx="1638.9" cy="814.7" rx="25.8" ry="22.2" fill="url(#lobeC)" opacity="0.25" transform="rotate(0 1638.9 814.7)"/>
<ellipse cx="1483.8" cy="971.7" rx="73.8" ry="20.3" fill="url(#lobeC)" opacity="0.3" transform="rotate(0 1483.8 971.7)"/>
<ellipse cx="1432.2" cy="958.7" rx="25.8" ry="22.2" fill="url(#lobeC)" opacity="0.2" transform="rotate(0 1432.2 958.7)"/>
<ellipse cx="1531.8" cy="814.7" rx="25.8" ry="14.8" fill="url(#lobeC)" opacity="0.5" transform="rotate(0 1531.8 814.7)"/>
<ellipse cx="1446.9" cy="814.7" rx="22.2" ry="14.8" fill="url(#lobeC)" opacity="0.5" transform="rotate(0 1446.9 814.7)"/>
<ellipse cx="1450.6" cy="892.3" rx="25.8" ry="14.8" fill="url(#lobeC)" opacity="0.5" transform="rotate(0 1450.6 892.3)"/>
<ellipse cx="1531.8" cy="888.6" rx="25.8" ry="14.8" fill="url(#lobeC)" opacity="0.4" transform="rotate(0 1531.8 888.6)"/>
<g filter="url(#bl3)" fill="none" stroke="#E08A38" stroke-width="3.5" opacity="0.5" stroke-linecap="round">
<path d="M1413.7 792.6 L1432.2 800.0 L1465.4 792.6 L1487.5 800.0 L1513.4 792.6 L1557.7 792.6 L1583.5 781.5 L1609.4 755.7"/>
<path d="M1489.4 800.0 L1483.8 829.5 L1491.2 859.1 L1483.8 873.8"/>
<path d="M1413.7 866.4 L1446.9 866.4 L1483.8 873.8 L1531.8 866.4 L1576.1 866.4"/>
<path d="M1579.8 785.2 L1583.5 814.7 L1576.1 848.0 L1579.8 873.8 L1572.4 903.4 L1576.1 932.9"/>
<path d="M1413.7 940.3 L1446.9 942.1 L1491.2 940.3 L1531.8 940.3 L1568.8 947.7"/>
<path d="M1491.2 877.5 L1487.5 903.4 L1493.1 932.9"/>
</g>
<g filter="url(#bl3)">
<ellipse cx="1651.8" cy="705.8" rx="12" ry="8" fill="#4E3016" opacity="0.9" transform="rotate(25 1651.8 705.8)"/>
<ellipse cx="1668.4" cy="718.8" rx="20" ry="8" fill="#9A5A26" opacity="0.6" transform="rotate(20 1668.4 718.8)"/>
<ellipse cx="1613.1" cy="748.3" rx="8" ry="6" fill="#B87030" opacity="0.7"/>
<ellipse cx="1552.1" cy="951.4" rx="3.5" ry="7" fill="#8F4E20" opacity="0.75"/>
<path d="M1627.8 668.9 L1653.7 674.5 L1679.5 670.8" stroke="#A05A2A" stroke-width="2" fill="none" opacity="0.6"/>
</g>
<g filter="url(#bl2)">
<path d="M1402.6 600.6 L1576.1 600.6 L1569.5 622.8 L1580.6 641.2 L1576.9 656.0 L1557.7 663.4 L1539.2 667.1 L1528.1 659.7 L1517.1 656.7 L1502.3 660.4 L1483.8 676.3 L1446.9 702.1 L1413.0 720.6 L1402.6 726.1 Z" fill="#3E2A14"/>
<path d="M1675.8 600.6 L1705.4 600.6 L1705.4 633.8 L1694.3 626.5 L1685.0 617.2 Z" fill="#6A3E18"/>
<path d="M1705.4 856.1 L1698.0 862.7 L1668.4 883.0 L1631.5 913.0 L1598.3 932.9 L1576.9 952.1 L1566.9 971.7 L1565.1 999.3 L1705.4 999.3 Z" fill="url(#dkBR)"/>
</g>
<g filter="url(#bl3)">
<path d="M1531.8 652.3 L1576.1 637.5 L1578.0 622.8 L1557.7 630.2 L1539.2 641.2 Z" fill="#5E4218" opacity="0.7"/>
</g>
<g filter="url(#bl3)" fill="none" stroke-linecap="round">
<path d="M1701.7 872.0 L1670.3 892.3 L1634.5 922.6 L1602.0 942.1 L1581.7 960.6 L1572.4 977.2" stroke="#9A6426" stroke-width="9" opacity="0.8"/>
</g>
<g filter="url(#bl2)" fill="none" stroke-linecap="round">
<path d="M1699.8 865.7 L1668.4 886.0 L1632.3 916.6 L1599.0 936.6 L1578.0 955.8 L1569.5 971.7" stroke="#D89A48" stroke-width="3" opacity="0.9"/>
<path d="M1697.2 848.0 L1690.6 862.7" stroke="#F4D0A0" stroke-width="2.5" opacity="0.7"/>
</g>
<g filter="url(#bl3)" stroke-linecap="round" fill="none" opacity="0.75">
<path d="M1416 720 L1437 714 L1456 706 L1470 697 L1484 688" stroke="#FFC458" stroke-width="8"/>
</g>
<g filter="url(#bl1)" stroke-linecap="round" fill="none">
<path d="M1417 719.5 L1437 714 L1456 706 L1470 697 L1484 688" stroke="#FFE49C" stroke-width="3.6"/>
<path d="M1438 714 L1456 706" stroke="#FFFDF0" stroke-width="5.5"/>
<path d="M1459 703.5 L1478 692" stroke="#FFF6D8" stroke-width="3.6"/>
<path d="M1422 718.5 L1432 715" stroke="#FFF4D0" stroke-width="3"/>
<path d="M1465.5 681 L1473 677" stroke="#FFF6D8" stroke-width="3.2"/>
<path d="M1477 673 L1492 664.5" stroke="#FFFDF0" stroke-width="3.8"/>
<path d="M1497 660 L1503.5 655" stroke="#FFFDF0" stroke-width="3.8"/>
<path d="M1445 695 L1455 689" stroke="#E8C078" stroke-width="1.6" opacity="0.8"/>
<path d="M1559 631 L1564 624" stroke="#FFF6D8" stroke-width="4.5"/>
<path d="M1566 619 L1573 612" stroke="#FFE8B0" stroke-width="2.5"/>
</g>
<g filter="url(#bl1)">
<circle cx="1624.4" cy="912.6" r="1.1" fill="#FFE8A0" opacity="0.68"/>
<circle cx="1421.2" cy="787.9" r="1.1" fill="#FFE8A0" opacity="0.64"/>
<circle cx="1445.2" cy="789.2" r="0.6" fill="#FFE8A0" opacity="0.59"/>
<circle cx="1493.1" cy="702.0" r="0.6" fill="#FFE8A0" opacity="0.74"/>
<circle cx="1611.9" cy="639.9" r="0.6" fill="#FFE8A0" opacity="0.35"/>
<circle cx="1472.7" cy="693.2" r="1.1" fill="#FFE8A0" opacity="0.74"/>
<circle cx="1427.1" cy="809.3" r="0.6" fill="#FFE8A0" opacity="0.77"/>
<circle cx="1472.5" cy="879.7" r="0.7" fill="#FFE8A0" opacity="0.50"/>
<circle cx="1580.0" cy="837.2" r="0.9" fill="#FFE8A0" opacity="0.38"/>
<circle cx="1441.5" cy="893.1" r="0.8" fill="#FFE8A0" opacity="0.67"/>
<circle cx="1508.1" cy="708.7" r="0.7" fill="#FFE8A0" opacity="0.60"/>
<circle cx="1611.3" cy="795.7" r="0.5" fill="#FFE8A0" opacity="0.43"/>
<circle cx="1469.0" cy="897.7" r="1.1" fill="#FFE8A0" opacity="0.77"/>
<circle cx="1511.1" cy="861.2" r="0.8" fill="#FFE8A0" opacity="0.62"/>
<circle cx="1517.6" cy="723.7" r="0.8" fill="#FFE8A0" opacity="0.79"/>
<circle cx="1547.1" cy="679.7" r="0.7" fill="#FFE8A0" opacity="0.77"/>
<circle cx="1449.4" cy="886.5" r="1.0" fill="#FFE8A0" opacity="0.63"/>
<circle cx="1501.1" cy="794.8" r="0.9" fill="#FFE8A0" opacity="0.39"/>
<circle cx="1676.2" cy="623.7" r="0.9" fill="#FFE8A0" opacity="0.50"/>
<circle cx="1638.1" cy="816.6" r="0.9" fill="#FFE8A0" opacity="0.71"/>
<circle cx="1455.5" cy="832.3" r="1.1" fill="#FFE8A0" opacity="0.63"/>
<circle cx="1443.3" cy="776.1" r="0.6" fill="#FFE8A0" opacity="0.73"/>
<circle cx="1628.1" cy="871.5" r="0.6" fill="#FFE8A0" opacity="0.58"/>
<circle cx="1609.3" cy="731.9" r="0.7" fill="#FFE8A0" opacity="0.56"/>
<circle cx="1445.0" cy="922.8" r="0.8" fill="#FFE8A0" opacity="0.43"/>
<circle cx="1660.3" cy="679.9" r="0.8" fill="#FFE8A0" opacity="0.58"/>
<circle cx="1555.7" cy="705.3" r="1.0" fill="#FFE8A0" opacity="0.66"/>
<circle cx="1629.5" cy="749.2" r="0.9" fill="#FFE8A0" opacity="0.48"/>
<circle cx="1467.3" cy="890.5" r="0.6" fill="#FFE8A0" opacity="0.73"/>
<circle cx="1448.9" cy="897.5" r="0.7" fill="#FFE8A0" opacity="0.58"/>
<circle cx="1514.6" cy="715.3" r="0.7" fill="#FFE8A0" opacity="0.77"/>
<circle cx="1650.8" cy="665.4" r="1.1" fill="#FFE8A0" opacity="0.78"/>
<circle cx="1582.2" cy="692.2" r="0.7" fill="#FFE8A0" opacity="0.73"/>
<circle cx="1598.6" cy="615.5" r="0.6" fill="#FFE8A0" opacity="0.70"/>
<circle cx="1607.0" cy="807.4" r="1.0" fill="#FFE8A0" opacity="0.47"/>
<circle cx="1468.7" cy="833.6" r="0.9" fill="#FFE8A0" opacity="0.43"/>
<circle cx="1464.4" cy="883.6" r="1.1" fill="#FFE8A0" opacity="0.79"/>
<circle cx="1668.7" cy="706.7" r="0.8" fill="#FFE8A0" opacity="0.60"/>
<circle cx="1487.5" cy="876.8" r="0.9" fill="#FFE8A0" opacity="0.46"/>
<circle cx="1413.1" cy="765.1" r="0.7" fill="#FFE8A0" opacity="0.53"/>
<circle cx="1569.6" cy="694.7" r="0.9" fill="#FFE8A0" opacity="0.39"/>
<circle cx="1514.0" cy="863.6" r="0.7" fill="#FFE8A0" opacity="0.41"/>
<circle cx="1661.8" cy="776.9" r="0.6" fill="#FFE8A0" opacity="0.62"/>
<circle cx="1458.1" cy="810.7" r="0.7" fill="#FFE8A0" opacity="0.75"/>
<circle cx="1590.6" cy="648.4" r="0.8" fill="#FFE8A0" opacity="0.50"/>
<circle cx="1573.8" cy="774.1" r="1.1" fill="#FFE8A0" opacity="0.57"/>
<circle cx="1591.4" cy="808.4" r="0.6" fill="#FFE8A0" opacity="0.62"/>
<circle cx="1498.7" cy="706.7" r="0.5" fill="#FFE8A0" opacity="0.78"/>
<circle cx="1456.3" cy="893.5" r="0.9" fill="#FFE8A0" opacity="0.78"/>
<circle cx="1500.4" cy="694.4" r="0.5" fill="#FFE8A0" opacity="0.59"/>
<circle cx="1618.1" cy="870.7" r="0.7" fill="#FFE8A0" opacity="0.42"/>
<circle cx="1496.5" cy="841.8" r="0.8" fill="#FFE8A0" opacity="0.64"/>
<circle cx="1624.9" cy="656.4" r="1.0" fill="#FFE8A0" opacity="0.49"/>
<circle cx="1484.2" cy="854.7" r="0.5" fill="#FFE8A0" opacity="0.51"/>
<circle cx="1644.6" cy="661.8" r="0.5" fill="#FFE8A0" opacity="0.60"/>
<circle cx="1443.6" cy="871.8" r="0.6" fill="#FFE8A0" opacity="0.54"/>
<circle cx="1582.5" cy="872.4" r="1.1" fill="#FFE8A0" opacity="0.64"/>
<circle cx="1652.7" cy="791.7" r="0.9" fill="#FFE8A0" opacity="0.67"/>
<circle cx="1545.5" cy="898.6" r="0.7" fill="#FFE8A0" opacity="0.35"/>
<circle cx="1578.9" cy="857.1" r="0.8" fill="#FFE8A0" opacity="0.49"/>
<circle cx="1602.8" cy="677.0" r="0.8" fill="#FFE8A0" opacity="0.54"/>
<circle cx="1504.6" cy="714.2" r="1.0" fill="#FFE8A0" opacity="0.71"/>
<circle cx="1420.2" cy="885.1" r="1.1" fill="#FFE8A0" opacity="0.80"/>
<circle cx="1426.9" cy="930.3" r="0.6" fill="#FFE8A0" opacity="0.64"/>
<circle cx="1616.0" cy="662.6" r="0.7" fill="#FFE8A0" opacity="0.76"/>
<circle cx="1676.3" cy="803.5" r="0.5" fill="#FFE8A0" opacity="0.45"/>
<circle cx="1612.7" cy="788.8" r="0.8" fill="#FFE8A0" opacity="0.40"/>
<circle cx="1676.3" cy="794.0" r="0.7" fill="#FFE8A0" opacity="0.62"/>
<circle cx="1509.2" cy="863.4" r="0.7" fill="#FFE8A0" opacity="0.61"/>
<circle cx="1495.7" cy="968.2" r="0.8" fill="#FFE8A0" opacity="0.45"/>
<circle cx="1442.7" cy="839.4" r="0.8" fill="#FFE8A0" opacity="0.41"/>
<circle cx="1488.3" cy="869.6" r="0.6" fill="#FFE8A0" opacity="0.36"/>
<circle cx="1666.0" cy="781.0" r="0.6" fill="#FFE8A0" opacity="0.62"/>
<circle cx="1608.7" cy="878.5" r="1.0" fill="#FFE8A0" opacity="0.36"/>
<circle cx="1607.1" cy="696.1" r="0.6" fill="#FFE8A0" opacity="0.79"/>
<circle cx="1646.8" cy="664.6" r="0.9" fill="#FFE8A0" opacity="0.51"/>
<circle cx="1523.2" cy="859.1" r="1.0" fill="#FFE8A0" opacity="0.52"/>
<circle cx="1515.1" cy="723.7" r="0.9" fill="#FFE8A0" opacity="0.78"/>
<circle cx="1478.8" cy="704.8" r="0.9" fill="#FFE8A0" opacity="0.53"/>
<circle cx="1498.7" cy="717.0" r="0.8" fill="#FFE8A0" opacity="0.77"/>
<circle cx="1512.3" cy="773.3" r="0.7" fill="#FFE8A0" opacity="0.77"/>
<circle cx="1505.1" cy="786.5" r="0.6" fill="#FFE8A0" opacity="0.64"/>
<circle cx="1624.4" cy="788.7" r="0.8" fill="#FFE8A0" opacity="0.40"/>
<circle cx="1626.8" cy="866.0" r="0.5" fill="#FFE8A0" opacity="0.75"/>
<circle cx="1500.2" cy="870.0" r="0.5" fill="#FFE8A0" opacity="0.56"/>
<circle cx="1457.4" cy="908.9" r="0.7" fill="#FFE8A0" opacity="0.55"/>
<circle cx="1660.1" cy="686.7" r="0.8" fill="#FFE8A0" opacity="0.65"/>
<circle cx="1672.8" cy="879.1" r="0.9" fill="#FFE8A0" opacity="0.43"/>
<circle cx="1600.0" cy="615.6" r="0.6" fill="#FFE8A0" opacity="0.46"/>
<circle cx="1681.0" cy="856.1" r="0.8" fill="#FFE8A0" opacity="0.79"/>
<circle cx="1473.5" cy="715.4" r="0.6" fill="#FFE8A0" opacity="0.36"/>
<circle cx="1651.6" cy="825.6" r="1.1" fill="#FFE8A0" opacity="0.67"/>
<circle cx="1625.5" cy="883.2" r="0.9" fill="#FFE8A0" opacity="0.64"/>
<circle cx="1521.6" cy="716.6" r="0.8" fill="#FFE8A0" opacity="0.64"/>
<circle cx="1683.8" cy="685.3" r="0.9" fill="#FFE8A0" opacity="0.64"/>
<circle cx="1451.5" cy="821.2" r="0.6" fill="#FFE8A0" opacity="0.59"/>
<circle cx="1583.5" cy="935.9" r="0.6" fill="#FFE8A0" opacity="0.36"/>
<circle cx="1602.8" cy="884.8" r="0.8" fill="#FFE8A0" opacity="0.41"/>
<circle cx="1442.6" cy="877.9" r="1.1" fill="#FFE8A0" opacity="0.60"/>
<circle cx="1630.3" cy="885.8" r="1.0" fill="#FFE8A0" opacity="0.49"/>
<circle cx="1585.1" cy="632.7" r="1.0" fill="#FFE8A0" opacity="0.79"/>
<circle cx="1491.6" cy="798.1" r="0.6" fill="#FFE8A0" opacity="0.67"/>
<circle cx="1483.9" cy="879.4" r="0.5" fill="#FFE8A0" opacity="0.48"/>
<circle cx="1491.8" cy="697.2" r="0.7" fill="#FFE8A0" opacity="0.72"/>
<circle cx="1624.7" cy="693.2" r="0.6" fill="#FFE8A0" opacity="0.57"/>
<circle cx="1518.0" cy="717.5" r="0.8" fill="#FFE8A0" opacity="0.36"/>
<circle cx="1640.6" cy="667.8" r="0.7" fill="#FFE8A0" opacity="0.78"/>
<circle cx="1559.8" cy="696.7" r="0.7" fill="#FFE8A0" opacity="0.36"/>
<circle cx="1630.3" cy="675.3" r="0.8" fill="#FFE8A0" opacity="0.43"/>
<circle cx="1540.1" cy="966.9" r="1.0" fill="#FFE8A0" opacity="0.40"/>
<circle cx="1431.8" cy="818.6" r="0.8" fill="#FFE8A0" opacity="0.70"/>
<circle cx="1564.8" cy="978.6" r="0.9" fill="#FFE8A0" opacity="0.40"/>
<circle cx="1422.3" cy="830.0" r="0.8" fill="#FFE8A0" opacity="0.75"/>
<circle cx="1449.4" cy="840.9" r="0.7" fill="#FFE8A0" opacity="0.58"/>
<circle cx="1636.8" cy="750.4" r="1.0" fill="#FFE8A0" opacity="0.72"/>
<circle cx="1671.9" cy="635.2" r="0.8" fill="#FFE8A0" opacity="0.51"/>
<circle cx="1440.2" cy="815.0" r="0.6" fill="#FFE8A0" opacity="0.39"/>
<circle cx="1669.5" cy="687.1" r="1.0" fill="#FFE8A0" opacity="0.50"/>
<circle cx="1659.0" cy="847.5" r="1.0" fill="#FFE8A0" opacity="0.52"/>
<circle cx="1556.2" cy="685.0" r="1.0" fill="#FFE8A0" opacity="0.36"/>
<circle cx="1586.9" cy="806.0" r="0.8" fill="#FFE8A0" opacity="0.60"/>
<circle cx="1541.1" cy="909.7" r="0.8" fill="#FFE8A0" opacity="0.77"/>
<circle cx="1469.2" cy="707.6" r="0.7" fill="#FFE8A0" opacity="0.62"/>
<circle cx="1561.8" cy="719.2" r="0.5" fill="#FFE8A0" opacity="0.39"/>
<circle cx="1685.6" cy="765.2" r="0.7" fill="#FFE8A0" opacity="0.79"/>
<circle cx="1459.9" cy="825.6" r="0.9" fill="#FFE8A0" opacity="0.78"/>
<circle cx="1587.1" cy="690.7" r="0.8" fill="#FFE8A0" opacity="0.75"/>
<circle cx="1537.9" cy="704.2" r="0.9" fill="#FFE8A0" opacity="0.52"/>
<circle cx="1563.5" cy="690.1" r="0.9" fill="#FFE8A0" opacity="0.49"/>
<circle cx="1556.4" cy="668.4" r="0.6" fill="#FFE8A0" opacity="0.40"/>
<circle cx="1456.0" cy="889.4" r="1.1" fill="#FFE8A0" opacity="0.38"/>
<circle cx="1632.6" cy="687.1" r="0.8" fill="#FFE8A0" opacity="0.72"/>
<circle cx="1620.5" cy="769.4" r="0.8" fill="#FFE8A0" opacity="0.59"/>
<circle cx="1499.1" cy="717.9" r="0.9" fill="#FFE8A0" opacity="0.78"/>
<circle cx="1502.2" cy="717.6" r="0.8" fill="#FFE8A0" opacity="0.60"/>
<circle cx="1484.7" cy="857.5" r="0.9" fill="#FFE8A0" opacity="0.68"/>
<circle cx="1624.0" cy="886.0" r="0.5" fill="#FFE8A0" opacity="0.44"/>
<circle cx="1622.6" cy="793.3" r="0.9" fill="#FFE8A0" opacity="0.73"/>
<circle cx="1618.5" cy="630.3" r="0.6" fill="#FFE8A0" opacity="0.50"/>
<circle cx="1591.3" cy="625.6" r="0.7" fill="#FFE8A0" opacity="0.70"/>
<circle cx="1592.4" cy="689.5" r="1.1" fill="#FFE8A0" opacity="0.40"/>
<circle cx="1605.3" cy="637.8" r="0.6" fill="#FFE8A0" opacity="0.75"/>
<circle cx="1631.1" cy="704.7" r="1.1" fill="#FFE8A0" opacity="0.56"/>
<circle cx="1674.2" cy="783.8" r="0.5" fill="#FFE8A0" opacity="0.52"/>
<circle cx="1575.9" cy="631.4" r="0.9" fill="#FFE8A0" opacity="0.36"/>
<circle cx="1493.3" cy="872.6" r="0.8" fill="#FFE8A0" opacity="0.66"/>
<circle cx="1577.0" cy="723.7" r="0.7" fill="#FFE8A0" opacity="0.73"/>
<circle cx="1502.9" cy="737.9" r="0.7" fill="#FFE8A0" opacity="0.67"/>
<circle cx="1590.8" cy="626.9" r="0.6" fill="#FFE8A0" opacity="0.73"/>
<circle cx="1482.8" cy="782.9" r="0.6" fill="#FFE8A0" opacity="0.39"/>
</g>
<g>
<circle cx="1552.1" cy="643.8" r="9.2" fill="url(#glow)"/>
<circle cx="1609.4" cy="642.0" r="9.2" fill="url(#glow)"/>
<circle cx="1598.3" cy="623.5" r="7.6" fill="url(#glow)"/>
<circle cx="1592.8" cy="627.2" r="5.5" fill="url(#glow)"/>
<circle cx="1602.0" cy="696.6" r="9.2" fill="url(#glow)"/>
<circle cx="1569.5" cy="697.7" r="8.4" fill="url(#glow)"/>
<circle cx="1576.1" cy="678.1" r="6.3" fill="url(#glow)"/>
<circle cx="1548.4" cy="687.4" r="6.3" fill="url(#glow)"/>
<circle cx="1557.7" cy="674.5" r="5.5" fill="url(#glow)"/>
<circle cx="1517.1" cy="673.7" r="6.7" fill="url(#glow)"/>
<circle cx="1498.6" cy="703.3" r="8.4" fill="url(#glow)"/>
<circle cx="1493.1" cy="709.5" r="6.7" fill="url(#glow)"/>
<circle cx="1487.5" cy="715.1" r="6.7" fill="url(#glow)"/>
<circle cx="1500.5" cy="718.8" r="6.3" fill="url(#glow)"/>
<circle cx="1520.8" cy="726.1" r="5.9" fill="url(#glow)"/>
<circle cx="1509.7" cy="722.5" r="5.5" fill="url(#glow)"/>
<circle cx="1476.5" cy="707.7" r="5.9" fill="url(#glow)"/>
<circle cx="1446.9" cy="758.6" r="6.7" fill="url(#glow)"/>
<circle cx="1454.3" cy="760.1" r="5.5" fill="url(#glow)"/>
<circle cx="1638.9" cy="683.7" r="6.7" fill="url(#glow)"/>
<circle cx="1646.3" cy="678.1" r="5.5" fill="url(#glow)"/>
<circle cx="1631.5" cy="663.4" r="5.5" fill="url(#glow)"/>
<circle cx="1664.7" cy="789.6" r="9.2" fill="url(#glow)"/>
<circle cx="1696.1" cy="788.2" r="7.6" fill="url(#glow)"/>
<circle cx="1662.9" cy="807.4" r="6.7" fill="url(#glow)"/>
<circle cx="1605.7" cy="792.6" r="6.7" fill="url(#glow)"/>
<circle cx="1611.2" cy="800.0" r="6.7" fill="url(#glow)"/>
<circle cx="1598.3" cy="790.8" r="5.5" fill="url(#glow)"/>
<circle cx="1536.3" cy="809.2" r="11.8" fill="url(#glow)"/>
<circle cx="1536.3" cy="803.7" r="6.7" fill="url(#glow)"/>
<circle cx="1520.8" cy="844.3" r="11.8" fill="url(#glow)"/>
<circle cx="1482.0" cy="850.9" r="11.8" fill="url(#glow)"/>
<circle cx="1443.2" cy="868.3" r="10.1" fill="url(#glow)"/>
<circle cx="1443.2" cy="891.5" r="10.1" fill="url(#glow)"/>
<circle cx="1461.7" cy="888.6" r="7.6" fill="url(#glow)"/>
<circle cx="1464.6" cy="893.0" r="5.9" fill="url(#glow)"/>
<circle cx="1454.3" cy="890.4" r="5.9" fill="url(#glow)"/>
<circle cx="1428.5" cy="896.0" r="6.3" fill="url(#glow)"/>
<circle cx="1437.7" cy="800.0" r="6.3" fill="url(#glow)"/>
<circle cx="1432.2" cy="818.4" r="5.9" fill="url(#glow)"/>
<circle cx="1439.5" cy="829.5" r="5.9" fill="url(#glow)"/>
<circle cx="1435.8" cy="824.0" r="5.0" fill="url(#glow)"/>
<circle cx="1618.6" cy="879.4" r="9.2" fill="url(#glow)"/>
<circle cx="1618.6" cy="873.8" r="5.9" fill="url(#glow)"/>
<circle cx="1622.3" cy="883.0" r="5.5" fill="url(#glow)"/>
<circle cx="1609.4" cy="866.4" r="5.9" fill="url(#glow)"/>
<circle cx="1655.5" cy="860.9" r="5.5" fill="url(#glow)"/>
<circle cx="1494.9" cy="969.8" r="8.4" fill="url(#glow)"/>
<circle cx="1505.3" cy="983.8" r="7.6" fill="url(#glow)"/>
<circle cx="1430.3" cy="984.6" r="8.4" fill="url(#glow)"/>
<circle cx="1472.0" cy="953.2" r="6.3" fill="url(#glow)"/>
<circle cx="1485.7" cy="953.2" r="5.9" fill="url(#glow)"/>
<circle cx="1489.4" cy="944.0" r="5.5" fill="url(#glow)"/>
<circle cx="1500.5" cy="928.5" r="5.5" fill="url(#glow)"/>
<circle cx="1520.8" cy="905.2" r="5.5" fill="url(#glow)"/>
<circle cx="1500.5" cy="860.9" r="5.5" fill="url(#glow)"/>
<circle cx="1507.8" cy="870.1" r="5.5" fill="url(#glow)"/>
<circle cx="1668.4" cy="982.7" r="5.9" fill="url(#glow)"/>
<circle cx="1413.7" cy="711.4" r="9.2" fill="url(#glow)"/>
<circle cx="1672.1" cy="644.9" r="5.0" fill="url(#glow)"/>
<circle cx="1661.1" cy="630.2" r="5.0" fill="url(#glow)"/>
<circle cx="1679.5" cy="663.4" r="5.0" fill="url(#glow)"/>
<circle cx="1686.9" cy="718.8" r="5.0" fill="url(#glow)"/>
<circle cx="1692.4" cy="715.1" r="5.0" fill="url(#glow)"/>
</g>
<g filter="url(#bl1)">
<circle cx="1552.1" cy="643.8" r="2.2" fill="#FFF9D6"/>
<circle cx="1609.4" cy="642.0" r="2.2" fill="#FFF9D6"/>
<circle cx="1598.3" cy="623.5" r="1.8" fill="#FFF9D6"/>
<circle cx="1592.8" cy="627.2" r="1.3" fill="#FFF9D6"/>
<circle cx="1602.0" cy="696.6" r="2.2" fill="#FFF9D6"/>
<circle cx="1569.5" cy="697.7" r="2.0" fill="#FFF9D6"/>
<circle cx="1576.1" cy="678.1" r="1.5" fill="#FFF9D6"/>
<circle cx="1548.4" cy="687.4" r="1.5" fill="#FFF9D6"/>
<circle cx="1557.7" cy="674.5" r="1.3" fill="#FFF9D6"/>
<circle cx="1517.1" cy="673.7" r="1.6" fill="#FFF9D6"/>
<circle cx="1498.6" cy="703.3" r="2.0" fill="#FFF9D6"/>
<circle cx="1493.1" cy="709.5" r="1.6" fill="#FFF9D6"/>
<circle cx="1487.5" cy="715.1" r="1.6" fill="#FFF9D6"/>
<circle cx="1500.5" cy="718.8" r="1.5" fill="#FFF9D6"/>
<circle cx="1520.8" cy="726.1" r="1.4" fill="#FFF9D6"/>
<circle cx="1509.7" cy="722.5" r="1.3" fill="#FFF9D6"/>
<circle cx="1476.5" cy="707.7" r="1.4" fill="#FFF9D6"/>
<circle cx="1446.9" cy="758.6" r="1.6" fill="#FFF9D6"/>
<circle cx="1454.3" cy="760.1" r="1.3" fill="#FFF9D6"/>
<circle cx="1638.9" cy="683.7" r="1.6" fill="#FFF9D6"/>
<circle cx="1646.3" cy="678.1" r="1.3" fill="#FFF9D6"/>
<circle cx="1631.5" cy="663.4" r="1.3" fill="#FFF9D6"/>
<circle cx="1664.7" cy="789.6" r="2.2" fill="#FFF9D6"/>
<circle cx="1696.1" cy="788.2" r="1.8" fill="#FFF9D6"/>
<circle cx="1662.9" cy="807.4" r="1.6" fill="#FFF9D6"/>
<circle cx="1605.7" cy="792.6" r="1.6" fill="#FFF9D6"/>
<circle cx="1611.2" cy="800.0" r="1.6" fill="#FFF9D6"/>
<circle cx="1598.3" cy="790.8" r="1.3" fill="#FFF9D6"/>
<circle cx="1536.3" cy="809.2" r="2.8" fill="#FFF9D6"/>
<circle cx="1536.3" cy="803.7" r="1.6" fill="#FFF9D6"/>
<circle cx="1520.8" cy="844.3" r="2.8" fill="#FFF9D6"/>
<circle cx="1482.0" cy="850.9" r="2.8" fill="#FFF9D6"/>
<circle cx="1443.2" cy="868.3" r="2.4" fill="#FFF9D6"/>
<circle cx="1443.2" cy="891.5" r="2.4" fill="#FFF9D6"/>
<circle cx="1461.7" cy="888.6" r="1.8" fill="#FFF9D6"/>
<circle cx="1464.6" cy="893.0" r="1.4" fill="#FFF9D6"/>
<circle cx="1454.3" cy="890.4" r="1.4" fill="#FFF9D6"/>
<circle cx="1428.5" cy="896.0" r="1.5" fill="#FFF9D6"/>
<circle cx="1437.7" cy="800.0" r="1.5" fill="#FFF9D6"/>
<circle cx="1432.2" cy="818.4" r="1.4" fill="#FFF9D6"/>
<circle cx="1439.5" cy="829.5" r="1.4" fill="#FFF9D6"/>
<circle cx="1435.8" cy="824.0" r="1.2" fill="#FFF9D6"/>
<circle cx="1618.6" cy="879.4" r="2.2" fill="#FFF9D6"/>
<circle cx="1618.6" cy="873.8" r="1.4" fill="#FFF9D6"/>
<circle cx="1622.3" cy="883.0" r="1.3" fill="#FFF9D6"/>
<circle cx="1609.4" cy="866.4" r="1.4" fill="#FFF9D6"/>
<circle cx="1655.5" cy="860.9" r="1.3" fill="#FFF9D6"/>
<circle cx="1494.9" cy="969.8" r="2.0" fill="#FFF9D6"/>
<circle cx="1505.3" cy="983.8" r="1.8" fill="#FFF9D6"/>
<circle cx="1430.3" cy="984.6" r="2.0" fill="#FFF9D6"/>
<circle cx="1472.0" cy="953.2" r="1.5" fill="#FFF9D6"/>
<circle cx="1485.7" cy="953.2" r="1.4" fill="#FFF9D6"/>
<circle cx="1489.4" cy="944.0" r="1.3" fill="#FFF9D6"/>
<circle cx="1500.5" cy="928.5" r="1.3" fill="#FFF9D6"/>
<circle cx="1520.8" cy="905.2" r="1.3" fill="#FFF9D6"/>
<circle cx="1500.5" cy="860.9" r="1.3" fill="#FFF9D6"/>
<circle cx="1507.8" cy="870.1" r="1.3" fill="#FFF9D6"/>
<circle cx="1668.4" cy="982.7" r="1.4" fill="#FFF9D6"/>
<circle cx="1413.7" cy="711.4" r="2.2" fill="#FFF9D6"/>
<circle cx="1672.1" cy="644.9" r="1.2" fill="#FFF9D6"/>
<circle cx="1661.1" cy="630.2" r="1.2" fill="#FFF9D6"/>
<circle cx="1679.5" cy="663.4" r="1.2" fill="#FFF9D6"/>
<circle cx="1686.9" cy="718.8" r="1.2" fill="#FFF9D6"/>
<circle cx="1692.4" cy="715.1" r="1.2" fill="#FFF9D6"/>
</g>
<rect x="1410" y="608" width="292" height="388" filter="url(#grain)" opacity="0.08"/>
</g>
<g clip-path="url(#clipR)">
<rect x="1700" y="608" width="292" height="388" fill="url(#gR)"/>
<ellipse cx="1985.9" cy="800.0" rx="25.8" ry="96.0" fill="url(#redz)" opacity="1" transform="rotate(0 1985.9 800.0)"/>
<ellipse cx="1971.2" cy="733.5" rx="25.8" ry="22.2" fill="url(#redz)" opacity="0.5" transform="rotate(0 1971.2 733.5)"/>
<ellipse cx="1760.7" cy="921.8" rx="62.8" ry="18.5" fill="url(#redz)" opacity="0.6" transform="rotate(-15 1760.7 921.8)"/>
<ellipse cx="1816.1" cy="907.0" rx="36.9" ry="11.1" fill="url(#redz)" opacity="0.5" transform="rotate(-15 1816.1 907.0)"/>
<ellipse cx="1834.6" cy="781.5" rx="59.1" ry="18.5" fill="url(#oran)" opacity="0.5" transform="rotate(0 1834.6 781.5)"/>
<ellipse cx="1919.5" cy="814.7" rx="44.3" ry="33.2" fill="url(#oran)" opacity="0.5" transform="rotate(0 1919.5 814.7)"/>
<ellipse cx="1779.2" cy="814.7" rx="29.5" ry="25.8" fill="url(#oran)" opacity="0.4" transform="rotate(0 1779.2 814.7)"/>
<ellipse cx="1742.3" cy="896.0" rx="55.4" ry="14.8" fill="url(#oran)" opacity="0.4" transform="rotate(-10 1742.3 896.0)"/>
<ellipse cx="1760.7" cy="873.8" rx="96.0" ry="33.2" fill="url(#brn)" opacity="0.8" transform="rotate(-6 1760.7 873.8)"/>
<ellipse cx="1871.5" cy="888.6" rx="73.8" ry="22.2" fill="url(#brn)" opacity="0.6" transform="rotate(0 1871.5 888.6)"/>
<ellipse cx="1834.6" cy="836.9" rx="73.8" ry="18.5" fill="url(#brn)" opacity="0.4" transform="rotate(0 1834.6 836.9)"/>
<ellipse cx="1731.2" cy="752.0" rx="40.6" ry="22.2" fill="url(#lobe)" opacity="0.9" transform="rotate(0 1731.2 752.0)"/>
<ellipse cx="1834.6" cy="755.7" rx="96.0" ry="18.5" fill="url(#lobe)" opacity="0.7" transform="rotate(-5 1834.6 755.7)"/>
<ellipse cx="1779.2" cy="848.0" rx="81.2" ry="22.2" fill="url(#lobe)" opacity="0.5" transform="rotate(-5 1779.2 848.0)"/>
<ellipse cx="1871.5" cy="866.4" rx="73.8" ry="25.8" fill="url(#lobe)" opacity="0.4" transform="rotate(0 1871.5 866.4)"/>
<ellipse cx="1742.3" cy="785.2" rx="36.9" ry="18.5" fill="url(#lobe)" opacity="0.7" transform="rotate(0 1742.3 785.2)"/>
<ellipse cx="1919.5" cy="766.8" rx="36.9" ry="18.5" fill="url(#lobe)" opacity="0.5" transform="rotate(0 1919.5 766.8)"/>
<ellipse cx="1890.0" cy="844.3" rx="48.0" ry="14.8" fill="url(#lobe)" opacity="0.6" transform="rotate(0 1890.0 844.3)"/>
<ellipse cx="1808.7" cy="707.7" rx="55.4" ry="13.3" fill="url(#lobeC)" opacity="0.6" transform="rotate(-12 1808.7 707.7)"/>
<ellipse cx="1753.4" cy="731.7" rx="51.7" ry="11.8" fill="url(#lobeC)" opacity="0.7" transform="rotate(-8 1753.4 731.7)"/>
<ellipse cx="1760.7" cy="836.9" rx="62.8" ry="14.8" fill="url(#lobeC)" opacity="0.4" transform="rotate(-5 1760.7 836.9)"/>
<ellipse cx="1734.9" cy="873.8" rx="40.6" ry="14.8" fill="url(#lobeC)" opacity="0.3" transform="rotate(-5 1734.9 873.8)"/>
<ellipse cx="1853.0" cy="873.8" rx="55.4" ry="14.8" fill="url(#lobeC)" opacity="0.25" transform="rotate(0 1853.0 873.8)"/>
<ellipse cx="1819.8" cy="722.5" rx="96.0" ry="15.5" fill="url(#lobeY)" opacity="1" transform="rotate(-6 1819.8 722.5)"/>
<ellipse cx="1727.5" cy="748.3" rx="29.5" ry="14.8" fill="url(#lobeY)" opacity="0.7" transform="rotate(0 1727.5 748.3)"/>
<ellipse cx="1919.5" cy="722.5" rx="44.3" ry="11.1" fill="url(#lobeY)" opacity="0.6" transform="rotate(0 1919.5 722.5)"/>
<g filter="url(#bl3)">
<path d="M1845.6 696.6 L1853.0 672.6 L1867.8 659.7 L1890.0 656.0 L1919.5 664.1 L1941.6 682.6 L1953.5 693.7 L1949.0 718.8 L1834.6 718.8 Z" fill="url(#blob)"/>
<path d="M1953.5 693.7 L1957.1 670.0 L1971.2 660.8 L2000.7 664.1 L2000.7 718.8 L1956.4 718.8 Z" fill="url(#blob)"/>
</g>
<g filter="url(#bl3)" fill="none" stroke="#DE9444" stroke-width="3.5" opacity="0.5" stroke-linecap="round">
<path d="M1705.4 814.7 L1742.3 807.4 L1779.2 814.7 L1816.1 807.4 L1845.6 792.6 L1849.3 770.4"/>
<path d="M1705.4 859.1 L1760.7 855.4 L1816.1 862.7 L1871.5 851.7"/>
<path d="M1801.3 770.4 L1823.5 759.4 L1845.6 766.8 L1849.3 792.6"/>
<path d="M1705.4 774.1 L1742.3 766.8 L1779.2 770.4 L1801.3 766.8"/>
<path d="M1712.7 888.6 L1760.7 881.2 L1816.1 888.6 L1871.5 881.2"/>
</g>
<g filter="url(#bl2)">
<path d="M1698.0 600.6 L2000.7 600.6 L2000.7 664.1 L1971.2 660.8 L1957.1 670.0 L1953.5 693.7 L1941.6 682.6 L1919.5 664.1 L1890.0 656.0 L1867.8 659.7 L1853.0 672.6 L1845.6 687.4 L1816.1 695.1 L1779.2 704.7 L1742.3 715.8 L1703.5 726.9 L1698.0 728.4 Z" fill="url(#dkRT)"/>
<path d="M1698.0 953.2 L1703.5 951.4 L1742.3 941.0 L1779.2 932.9 L1816.1 918.9 L1842.0 904.1 L1871.5 899.7 L1890.0 903.4 L1901.8 911.5 L1941.6 907.8 L1946.1 899.7 L1963.8 877.5 L1987.8 859.8 L2000.7 851.7 L2000.7 999.3 L1698.0 999.3 Z" fill="url(#dkRB)"/>
</g>
<g filter="url(#bl2)">
<path d="M1890.0 901.5 L1926.9 890.4 L1945.3 884.9 L1946.1 899.7 L1941.6 908.9 L1902.9 912.6 Z" fill="#CC9048" opacity="0.9"/>
<path d="M1742.3 938.4 L1779.2 929.2 L1816.1 915.2 L1842.0 901.9 L1845.6 907.0 L1816.1 921.8 L1779.2 935.8 L1744.1 944.0 Z" fill="#DC763A" opacity="0.6"/>
</g>
<g filter="url(#bl1)" fill="none" stroke-linecap="round">
<path d="M1703.5 979.0 L1731.2 968.0 L1760.7 947.7 L1782.9 932.9" stroke="#E0AC5C" stroke-width="1.8" opacity="0.9"/>
<path d="M1703.5 971.7 L1738.6 953.2" stroke="#B88840" stroke-width="1.2" opacity="0.6"/>
<path d="M1806.9 684.8 L1830.9 663.4 L1853.0 649.3 L1867.8 644.9" stroke="#E0A858" stroke-width="1.6" opacity="0.85" stroke-dasharray="3 4"/>
</g>
<ellipse cx="1798.4" cy="726.1" rx="34" ry="20" fill="url(#glow)"/>
<ellipse cx="1798.4" cy="726.1" rx="9.5" ry="7.5" fill="#FFFEF4" filter="url(#bl1)"/>
<g filter="url(#bl1)">
<circle cx="1726.5" cy="756.7" r="0.9" fill="#FFE8A0" opacity="0.50"/>
<circle cx="1868.1" cy="700.6" r="0.9" fill="#FFE8A0" opacity="0.68"/>
<circle cx="1934.2" cy="898.3" r="0.6" fill="#FFE8A0" opacity="0.37"/>
<circle cx="1892.7" cy="672.9" r="0.9" fill="#FFE8A0" opacity="0.40"/>
<circle cx="1807.0" cy="777.3" r="0.6" fill="#FFE8A0" opacity="0.47"/>
<circle cx="1923.3" cy="818.4" r="0.9" fill="#FFE8A0" opacity="0.35"/>
<circle cx="1786.1" cy="918.5" r="0.6" fill="#FFE8A0" opacity="0.68"/>
<circle cx="1760.0" cy="934.2" r="0.7" fill="#FFE8A0" opacity="0.75"/>
<circle cx="1791.2" cy="726.1" r="0.8" fill="#FFE8A0" opacity="0.44"/>
<circle cx="1805.6" cy="787.6" r="0.8" fill="#FFE8A0" opacity="0.43"/>
<circle cx="1970.7" cy="666.8" r="0.8" fill="#FFE8A0" opacity="0.37"/>
<circle cx="1917.1" cy="723.9" r="0.9" fill="#FFE8A0" opacity="0.62"/>
<circle cx="1728.5" cy="743.1" r="1.0" fill="#FFE8A0" opacity="0.61"/>
<circle cx="1811.5" cy="841.7" r="0.5" fill="#FFE8A0" opacity="0.40"/>
<circle cx="1922.6" cy="820.4" r="0.9" fill="#FFE8A0" opacity="0.40"/>
<circle cx="1711.1" cy="907.1" r="1.0" fill="#FFE8A0" opacity="0.57"/>
<circle cx="1774.4" cy="890.8" r="0.8" fill="#FFE8A0" opacity="0.45"/>
<circle cx="1817.7" cy="752.8" r="1.0" fill="#FFE8A0" opacity="0.52"/>
<circle cx="1752.4" cy="930.8" r="0.7" fill="#FFE8A0" opacity="0.37"/>
<circle cx="1810.8" cy="780.6" r="0.5" fill="#FFE8A0" opacity="0.71"/>
<circle cx="1912.1" cy="898.8" r="0.6" fill="#FFE8A0" opacity="0.60"/>
<circle cx="1722.5" cy="782.5" r="0.9" fill="#FFE8A0" opacity="0.69"/>
<circle cx="1967.3" cy="675.5" r="0.9" fill="#FFE8A0" opacity="0.62"/>
<circle cx="1831.6" cy="729.6" r="1.0" fill="#FFE8A0" opacity="0.72"/>
<circle cx="1813.5" cy="784.9" r="0.8" fill="#FFE8A0" opacity="0.62"/>
<circle cx="1899.8" cy="691.2" r="1.1" fill="#FFE8A0" opacity="0.59"/>
<circle cx="1858.4" cy="809.8" r="0.8" fill="#FFE8A0" opacity="0.76"/>
<circle cx="1900.3" cy="721.9" r="0.6" fill="#FFE8A0" opacity="0.41"/>
<circle cx="1903.1" cy="901.1" r="0.9" fill="#FFE8A0" opacity="0.37"/>
<circle cx="1922.3" cy="898.8" r="0.9" fill="#FFE8A0" opacity="0.63"/>
<circle cx="1973.1" cy="683.0" r="0.9" fill="#FFE8A0" opacity="0.60"/>
<circle cx="1873.7" cy="695.8" r="0.5" fill="#FFE8A0" opacity="0.78"/>
<circle cx="1719.8" cy="744.9" r="0.6" fill="#FFE8A0" opacity="0.79"/>
<circle cx="1891.7" cy="736.9" r="1.1" fill="#FFE8A0" opacity="0.52"/>
<circle cx="1836.6" cy="809.2" r="0.7" fill="#FFE8A0" opacity="0.64"/>
<circle cx="1929.7" cy="792.4" r="0.5" fill="#FFE8A0" opacity="0.46"/>
<circle cx="1976.6" cy="808.3" r="0.8" fill="#FFE8A0" opacity="0.75"/>
<circle cx="1719.3" cy="748.8" r="0.5" fill="#FFE8A0" opacity="0.47"/>
<circle cx="1987.2" cy="679.4" r="1.0" fill="#FFE8A0" opacity="0.77"/>
<circle cx="1713.3" cy="754.8" r="0.7" fill="#FFE8A0" opacity="0.60"/>
<circle cx="1957.3" cy="774.4" r="0.5" fill="#FFE8A0" opacity="0.49"/>
<circle cx="1910.7" cy="900.7" r="0.7" fill="#FFE8A0" opacity="0.50"/>
<circle cx="1910.0" cy="723.1" r="0.7" fill="#FFE8A0" opacity="0.75"/>
<circle cx="1813.1" cy="875.5" r="1.0" fill="#FFE8A0" opacity="0.38"/>
<circle cx="1823.6" cy="697.7" r="0.9" fill="#FFE8A0" opacity="0.69"/>
<circle cx="1846.5" cy="787.0" r="0.5" fill="#FFE8A0" opacity="0.76"/>
<circle cx="1833.6" cy="794.9" r="0.5" fill="#FFE8A0" opacity="0.42"/>
<circle cx="1857.4" cy="680.9" r="0.7" fill="#FFE8A0" opacity="0.73"/>
<circle cx="1913.8" cy="717.6" r="0.7" fill="#FFE8A0" opacity="0.78"/>
<circle cx="1743.0" cy="916.4" r="1.0" fill="#FFE8A0" opacity="0.43"/>
<circle cx="1925.1" cy="812.0" r="0.8" fill="#FFE8A0" opacity="0.74"/>
<circle cx="1960.7" cy="680.7" r="1.1" fill="#FFE8A0" opacity="0.43"/>
<circle cx="1727.3" cy="749.6" r="0.7" fill="#FFE8A0" opacity="0.50"/>
<circle cx="1897.8" cy="714.3" r="0.6" fill="#FFE8A0" opacity="0.41"/>
<circle cx="1910.5" cy="726.8" r="0.8" fill="#FFE8A0" opacity="0.73"/>
<circle cx="1905.0" cy="705.9" r="1.1" fill="#FFE8A0" opacity="0.67"/>
<circle cx="1793.2" cy="734.7" r="1.0" fill="#FFE8A0" opacity="0.55"/>
<circle cx="1901.0" cy="677.3" r="0.6" fill="#FFE8A0" opacity="0.56"/>
<circle cx="1933.3" cy="723.1" r="0.7" fill="#FFE8A0" opacity="0.45"/>
<circle cx="1711.9" cy="882.8" r="0.9" fill="#FFE8A0" opacity="0.79"/>
<circle cx="1800.1" cy="879.3" r="0.7" fill="#FFE8A0" opacity="0.53"/>
<circle cx="1781.3" cy="803.5" r="0.5" fill="#FFE8A0" opacity="0.43"/>
<circle cx="1795.9" cy="772.6" r="1.1" fill="#FFE8A0" opacity="0.52"/>
<circle cx="1955.2" cy="801.6" r="1.0" fill="#FFE8A0" opacity="0.36"/>
<circle cx="1743.7" cy="769.2" r="0.9" fill="#FFE8A0" opacity="0.73"/>
<circle cx="1879.1" cy="805.6" r="0.8" fill="#FFE8A0" opacity="0.47"/>
<circle cx="1887.5" cy="787.1" r="1.1" fill="#FFE8A0" opacity="0.40"/>
<circle cx="1760.1" cy="884.4" r="0.7" fill="#FFE8A0" opacity="0.48"/>
<circle cx="1798.8" cy="919.0" r="0.9" fill="#FFE8A0" opacity="0.50"/>
<circle cx="1907.6" cy="904.1" r="0.9" fill="#FFE8A0" opacity="0.38"/>
<circle cx="1816.9" cy="784.4" r="0.8" fill="#FFE8A0" opacity="0.75"/>
<circle cx="1877.4" cy="728.1" r="0.7" fill="#FFE8A0" opacity="0.71"/>
<circle cx="1906.3" cy="684.9" r="0.9" fill="#FFE8A0" opacity="0.65"/>
<circle cx="1722.3" cy="752.8" r="1.1" fill="#FFE8A0" opacity="0.53"/>
<circle cx="1755.8" cy="856.9" r="1.0" fill="#FFE8A0" opacity="0.64"/>
<circle cx="1829.7" cy="728.7" r="0.7" fill="#FFE8A0" opacity="0.44"/>
<circle cx="1921.3" cy="900.6" r="0.7" fill="#FFE8A0" opacity="0.35"/>
<circle cx="1848.4" cy="734.8" r="0.7" fill="#FFE8A0" opacity="0.47"/>
<circle cx="1949.5" cy="833.9" r="1.0" fill="#FFE8A0" opacity="0.44"/>
<circle cx="1925.7" cy="894.7" r="1.1" fill="#FFE8A0" opacity="0.79"/>
<circle cx="1936.5" cy="901.6" r="0.9" fill="#FFE8A0" opacity="0.72"/>
<circle cx="1742.6" cy="755.8" r="0.9" fill="#FFE8A0" opacity="0.59"/>
<circle cx="1913.5" cy="894.5" r="1.1" fill="#FFE8A0" opacity="0.61"/>
<circle cx="1899.8" cy="822.2" r="1.0" fill="#FFE8A0" opacity="0.61"/>
<circle cx="1891.6" cy="723.0" r="1.0" fill="#FFE8A0" opacity="0.58"/>
<circle cx="1984.8" cy="703.8" r="0.9" fill="#FFE8A0" opacity="0.49"/>
<circle cx="1738.4" cy="749.4" r="0.6" fill="#FFE8A0" opacity="0.60"/>
<circle cx="1787.7" cy="718.5" r="0.5" fill="#FFE8A0" opacity="0.54"/>
<circle cx="1773.0" cy="922.5" r="0.6" fill="#FFE8A0" opacity="0.72"/>
<circle cx="1949.8" cy="720.4" r="0.8" fill="#FFE8A0" opacity="0.48"/>
<circle cx="1973.3" cy="685.2" r="1.0" fill="#FFE8A0" opacity="0.39"/>
<circle cx="1935.3" cy="706.6" r="0.7" fill="#FFE8A0" opacity="0.45"/>
<circle cx="1916.5" cy="736.0" r="0.9" fill="#FFE8A0" opacity="0.56"/>
<circle cx="1888.2" cy="709.4" r="0.9" fill="#FFE8A0" opacity="0.43"/>
<circle cx="1933.4" cy="758.6" r="0.8" fill="#FFE8A0" opacity="0.72"/>
<circle cx="1731.3" cy="746.9" r="0.8" fill="#FFE8A0" opacity="0.63"/>
<circle cx="1810.3" cy="731.8" r="0.7" fill="#FFE8A0" opacity="0.45"/>
<circle cx="1816.6" cy="722.5" r="0.8" fill="#FFE8A0" opacity="0.42"/>
<circle cx="1808.0" cy="801.3" r="1.0" fill="#FFE8A0" opacity="0.41"/>
<circle cx="1971.8" cy="680.2" r="0.9" fill="#FFE8A0" opacity="0.62"/>
<circle cx="1818.2" cy="770.2" r="0.9" fill="#FFE8A0" opacity="0.48"/>
<circle cx="1909.6" cy="727.6" r="0.7" fill="#FFE8A0" opacity="0.52"/>
<circle cx="1864.9" cy="855.9" r="0.9" fill="#FFE8A0" opacity="0.35"/>
<circle cx="1738.7" cy="749.9" r="0.6" fill="#FFE8A0" opacity="0.50"/>
<circle cx="1812.9" cy="784.8" r="1.0" fill="#FFE8A0" opacity="0.67"/>
<circle cx="1709.8" cy="937.2" r="0.9" fill="#FFE8A0" opacity="0.68"/>
<circle cx="1842.3" cy="692.0" r="0.6" fill="#FFE8A0" opacity="0.75"/>
<circle cx="1904.1" cy="685.8" r="0.8" fill="#FFE8A0" opacity="0.65"/>
<circle cx="1892.1" cy="835.8" r="0.6" fill="#FFE8A0" opacity="0.76"/>
<circle cx="1921.8" cy="709.1" r="0.5" fill="#FFE8A0" opacity="0.51"/>
<circle cx="1972.5" cy="667.6" r="1.1" fill="#FFE8A0" opacity="0.77"/>
<circle cx="1974.2" cy="682.3" r="0.5" fill="#FFE8A0" opacity="0.64"/>
<circle cx="1864.2" cy="785.3" r="0.8" fill="#FFE8A0" opacity="0.80"/>
<circle cx="1922.2" cy="904.6" r="0.7" fill="#FFE8A0" opacity="0.38"/>
<circle cx="1961.3" cy="685.2" r="0.8" fill="#FFE8A0" opacity="0.68"/>
<circle cx="1885.2" cy="677.5" r="1.0" fill="#FFE8A0" opacity="0.38"/>
<circle cx="1939.9" cy="822.8" r="0.7" fill="#FFE8A0" opacity="0.78"/>
<circle cx="1765.7" cy="854.2" r="1.0" fill="#FFE8A0" opacity="0.58"/>
<circle cx="1977.2" cy="699.8" r="1.0" fill="#FFE8A0" opacity="0.50"/>
<circle cx="1755.5" cy="913.2" r="0.9" fill="#FFE8A0" opacity="0.36"/>
<circle cx="1741.7" cy="754.6" r="0.8" fill="#FFE8A0" opacity="0.39"/>
<circle cx="1727.8" cy="763.5" r="1.0" fill="#FFE8A0" opacity="0.54"/>
<circle cx="1715.0" cy="755.0" r="0.8" fill="#FFE8A0" opacity="0.68"/>
<circle cx="1929.0" cy="899.9" r="0.6" fill="#FFE8A0" opacity="0.52"/>
<circle cx="1772.6" cy="920.3" r="0.8" fill="#FFE8A0" opacity="0.65"/>
<circle cx="1773.5" cy="825.9" r="0.7" fill="#FFE8A0" opacity="0.76"/>
<circle cx="1723.0" cy="836.3" r="0.7" fill="#FFE8A0" opacity="0.61"/>
<circle cx="1798.9" cy="792.1" r="0.9" fill="#FFE8A0" opacity="0.60"/>
<circle cx="1844.8" cy="727.2" r="0.8" fill="#FFE8A0" opacity="0.73"/>
<circle cx="1926.4" cy="695.4" r="0.6" fill="#FFE8A0" opacity="0.51"/>
<circle cx="1735.4" cy="749.8" r="0.6" fill="#FFE8A0" opacity="0.41"/>
<circle cx="1790.0" cy="792.5" r="0.9" fill="#FFE8A0" opacity="0.65"/>
<circle cx="1829.2" cy="729.0" r="0.5" fill="#FFE8A0" opacity="0.70"/>
<circle cx="1710.6" cy="761.0" r="0.5" fill="#FFE8A0" opacity="0.50"/>
<circle cx="1849.4" cy="725.4" r="0.7" fill="#FFE8A0" opacity="0.65"/>
<circle cx="1886.1" cy="784.4" r="1.1" fill="#FFE8A0" opacity="0.73"/>
<circle cx="1959.4" cy="680.8" r="0.9" fill="#FFE8A0" opacity="0.59"/>
<circle cx="1718.4" cy="814.0" r="0.8" fill="#FFE8A0" opacity="0.63"/>
<circle cx="1731.5" cy="753.1" r="0.5" fill="#FFE8A0" opacity="0.79"/>
<circle cx="1927.8" cy="725.1" r="0.6" fill="#FFE8A0" opacity="0.62"/>
<circle cx="1896.0" cy="816.3" r="0.9" fill="#FFE8A0" opacity="0.35"/>
<circle cx="1810.4" cy="798.4" r="0.8" fill="#FFE8A0" opacity="0.76"/>
<circle cx="1845.1" cy="776.7" r="0.5" fill="#FFE8A0" opacity="0.39"/>
<circle cx="1708.9" cy="839.7" r="1.0" fill="#FFE8A0" opacity="0.70"/>
<circle cx="1977.5" cy="684.6" r="1.0" fill="#FFE8A0" opacity="0.79"/>
<circle cx="1742.4" cy="755.8" r="0.9" fill="#FFE8A0" opacity="0.35"/>
<circle cx="1914.0" cy="829.7" r="1.1" fill="#FFE8A0" opacity="0.74"/>
<circle cx="1734.6" cy="746.8" r="0.9" fill="#FFE8A0" opacity="0.41"/>
<circle cx="1900.0" cy="899.2" r="0.6" fill="#FFE8A0" opacity="0.67"/>
<circle cx="1857.3" cy="733.0" r="1.0" fill="#FFE8A0" opacity="0.52"/>
<circle cx="1879.3" cy="677.5" r="0.6" fill="#FFE8A0" opacity="0.75"/>
<circle cx="1922.0" cy="785.0" r="0.5" fill="#FFE8A0" opacity="0.70"/>
<circle cx="1794.1" cy="848.4" r="0.6" fill="#FFE8A0" opacity="0.78"/>
<circle cx="1721.8" cy="876.8" r="0.9" fill="#FFE8A0" opacity="0.55"/>
<circle cx="1905.9" cy="898.8" r="0.7" fill="#FFE8A0" opacity="0.68"/>
<circle cx="1741.6" cy="811.1" r="1.0" fill="#FFE8A0" opacity="0.75"/>
<circle cx="1885.6" cy="716.8" r="0.5" fill="#FFE8A0" opacity="0.67"/>
<circle cx="1887.7" cy="669.4" r="1.0" fill="#FFE8A0" opacity="0.68"/>
<circle cx="1799.6" cy="725.6" r="0.9" fill="#FFE8A0" opacity="0.73"/>
<circle cx="1750.5" cy="917.0" r="0.6" fill="#FFE8A0" opacity="0.37"/>
<circle cx="1723.9" cy="751.2" r="0.9" fill="#FFE8A0" opacity="0.65"/>
<circle cx="1986.3" cy="672.9" r="0.7" fill="#FFE8A0" opacity="0.64"/>
<circle cx="1814.6" cy="787.0" r="0.7" fill="#FFE8A0" opacity="0.71"/>
<circle cx="1903.8" cy="906.5" r="0.8" fill="#FFE8A0" opacity="0.74"/>
<circle cx="1724.8" cy="744.6" r="1.0" fill="#FFE8A0" opacity="0.66"/>
<circle cx="1722.9" cy="768.9" r="0.8" fill="#FFE8A0" opacity="0.80"/>
<circle cx="1977.7" cy="678.3" r="0.5" fill="#FFE8A0" opacity="0.61"/>
<circle cx="1729.4" cy="751.1" r="0.8" fill="#FFE8A0" opacity="0.42"/>
<circle cx="1809.2" cy="767.9" r="0.8" fill="#FFE8A0" opacity="0.56"/>
<circle cx="1828.5" cy="763.5" r="1.0" fill="#FFE8A0" opacity="0.79"/>
</g>
<g>
<circle cx="1867.8" cy="644.9" r="7.6" fill="url(#glow)"/>
<circle cx="1965.6" cy="644.9" r="8.4" fill="url(#glow)"/>
<circle cx="1955.7" cy="647.9" r="5.5" fill="url(#glow)"/>
<circle cx="1806.9" cy="684.8" r="6.7" fill="url(#glow)"/>
<circle cx="1816.1" cy="680.0" r="5.0" fill="url(#glow)"/>
<circle cx="1818.0" cy="725.4" r="11.8" fill="url(#glow)"/>
<circle cx="1846.8" cy="716.5" r="10.1" fill="url(#glow)"/>
<circle cx="1825.7" cy="736.5" r="8.4" fill="url(#glow)"/>
<circle cx="1842.0" cy="732.8" r="9.2" fill="url(#glow)"/>
<circle cx="1853.0" cy="729.8" r="7.6" fill="url(#glow)"/>
<circle cx="1870.0" cy="728.0" r="9.2" fill="url(#glow)"/>
<circle cx="1879.6" cy="723.9" r="7.6" fill="url(#glow)"/>
<circle cx="1891.8" cy="716.9" r="8.4" fill="url(#glow)"/>
<circle cx="1925.0" cy="712.1" r="8.4" fill="url(#glow)"/>
<circle cx="1947.2" cy="723.2" r="8.4" fill="url(#glow)"/>
<circle cx="1960.1" cy="723.9" r="6.3" fill="url(#glow)"/>
<circle cx="1737.8" cy="744.6" r="11.8" fill="url(#glow)"/>
<circle cx="1709.0" cy="751.2" r="10.9" fill="url(#glow)"/>
<circle cx="1725.7" cy="760.1" r="6.3" fill="url(#glow)"/>
<circle cx="1815.0" cy="773.0" r="8.4" fill="url(#glow)"/>
<circle cx="1819.8" cy="777.1" r="7.6" fill="url(#glow)"/>
<circle cx="1808.0" cy="793.3" r="7.6" fill="url(#glow)"/>
<circle cx="1805.0" cy="800.7" r="6.7" fill="url(#glow)"/>
<circle cx="1800.2" cy="803.7" r="8.4" fill="url(#glow)"/>
<circle cx="1795.1" cy="809.9" r="7.6" fill="url(#glow)"/>
<circle cx="1888.1" cy="826.9" r="8.4" fill="url(#glow)"/>
<circle cx="1894.0" cy="828.8" r="7.6" fill="url(#glow)"/>
<circle cx="1909.2" cy="829.9" r="7.6" fill="url(#glow)"/>
<circle cx="1925.0" cy="795.6" r="8.4" fill="url(#glow)"/>
<circle cx="1933.1" cy="798.9" r="6.7" fill="url(#glow)"/>
<circle cx="1940.2" cy="829.9" r="7.6" fill="url(#glow)"/>
<circle cx="1946.1" cy="835.8" r="7.6" fill="url(#glow)"/>
<circle cx="1953.1" cy="830.6" r="6.7" fill="url(#glow)"/>
<circle cx="1937.9" cy="811.8" r="6.7" fill="url(#glow)"/>
<circle cx="1795.1" cy="907.8" r="6.7" fill="url(#glow)"/>
<circle cx="1808.0" cy="915.9" r="6.7" fill="url(#glow)"/>
<circle cx="1750.0" cy="924.8" r="6.3" fill="url(#glow)"/>
<circle cx="1760.0" cy="934.7" r="7.6" fill="url(#glow)"/>
<circle cx="1933.9" cy="908.9" r="5.9" fill="url(#glow)"/>
<circle cx="1926.1" cy="774.9" r="6.3" fill="url(#glow)"/>
<circle cx="1960.1" cy="814.7" r="6.3" fill="url(#glow)"/>
<circle cx="1834.6" cy="721.7" r="6.7" fill="url(#glow)"/>
<circle cx="1859.7" cy="735.4" r="6.3" fill="url(#glow)"/>
<circle cx="1811.7" cy="734.6" r="6.7" fill="url(#glow)"/>
<circle cx="1786.6" cy="718.8" r="6.3" fill="url(#glow)"/>
<circle cx="1782.9" cy="731.7" r="5.9" fill="url(#glow)"/>
<circle cx="1901.0" cy="718.8" r="5.5" fill="url(#glow)"/>
<circle cx="1912.1" cy="726.1" r="5.5" fill="url(#glow)"/>
</g>
<g filter="url(#bl1)">
<circle cx="1867.8" cy="644.9" r="1.8" fill="#FFF9D6"/>
<circle cx="1965.6" cy="644.9" r="2.0" fill="#FFF9D6"/>
<circle cx="1955.7" cy="647.9" r="1.3" fill="#FFF9D6"/>
<circle cx="1806.9" cy="684.8" r="1.6" fill="#FFF9D6"/>
<circle cx="1816.1" cy="680.0" r="1.2" fill="#FFF9D6"/>
<circle cx="1818.0" cy="725.4" r="2.8" fill="#FFF9D6"/>
<circle cx="1846.8" cy="716.5" r="2.4" fill="#FFF9D6"/>
<circle cx="1825.7" cy="736.5" r="2.0" fill="#FFF9D6"/>
<circle cx="1842.0" cy="732.8" r="2.2" fill="#FFF9D6"/>
<circle cx="1853.0" cy="729.8" r="1.8" fill="#FFF9D6"/>
<circle cx="1870.0" cy="728.0" r="2.2" fill="#FFF9D6"/>
<circle cx="1879.6" cy="723.9" r="1.8" fill="#FFF9D6"/>
<circle cx="1891.8" cy="716.9" r="2.0" fill="#FFF9D6"/>
<circle cx="1925.0" cy="712.1" r="2.0" fill="#FFF9D6"/>
<circle cx="1947.2" cy="723.2" r="2.0" fill="#FFF9D6"/>
<circle cx="1960.1" cy="723.9" r="1.5" fill="#FFF9D6"/>
<circle cx="1737.8" cy="744.6" r="2.8" fill="#FFF9D6"/>
<circle cx="1709.0" cy="751.2" r="2.6" fill="#FFF9D6"/>
<circle cx="1725.7" cy="760.1" r="1.5" fill="#FFF9D6"/>
<circle cx="1815.0" cy="773.0" r="2.0" fill="#FFF9D6"/>
<circle cx="1819.8" cy="777.1" r="1.8" fill="#FFF9D6"/>
<circle cx="1808.0" cy="793.3" r="1.8" fill="#FFF9D6"/>
<circle cx="1805.0" cy="800.7" r="1.6" fill="#FFF9D6"/>
<circle cx="1800.2" cy="803.7" r="2.0" fill="#FFF9D6"/>
<circle cx="1795.1" cy="809.9" r="1.8" fill="#FFF9D6"/>
<circle cx="1888.1" cy="826.9" r="2.0" fill="#FFF9D6"/>
<circle cx="1894.0" cy="828.8" r="1.8" fill="#FFF9D6"/>
<circle cx="1909.2" cy="829.9" r="1.8" fill="#FFF9D6"/>
<circle cx="1925.0" cy="795.6" r="2.0" fill="#FFF9D6"/>
<circle cx="1933.1" cy="798.9" r="1.6" fill="#FFF9D6"/>
<circle cx="1940.2" cy="829.9" r="1.8" fill="#FFF9D6"/>
<circle cx="1946.1" cy="835.8" r="1.8" fill="#FFF9D6"/>
<circle cx="1953.1" cy="830.6" r="1.6" fill="#FFF9D6"/>
<circle cx="1937.9" cy="811.8" r="1.6" fill="#FFF9D6"/>
<circle cx="1795.1" cy="907.8" r="1.6" fill="#FFF9D6"/>
<circle cx="1808.0" cy="915.9" r="1.6" fill="#FFF9D6"/>
<circle cx="1750.0" cy="924.8" r="1.5" fill="#FFF9D6"/>
<circle cx="1760.0" cy="934.7" r="1.8" fill="#FFF9D6"/>
<circle cx="1933.9" cy="908.9" r="1.4" fill="#FFF9D6"/>
<circle cx="1926.1" cy="774.9" r="1.5" fill="#FFF9D6"/>
<circle cx="1960.1" cy="814.7" r="1.5" fill="#FFF9D6"/>
<circle cx="1834.6" cy="721.7" r="1.6" fill="#FFF9D6"/>
<circle cx="1859.7" cy="735.4" r="1.5" fill="#FFF9D6"/>
<circle cx="1811.7" cy="734.6" r="1.6" fill="#FFF9D6"/>
<circle cx="1786.6" cy="718.8" r="1.5" fill="#FFF9D6"/>
<circle cx="1782.9" cy="731.7" r="1.4" fill="#FFF9D6"/>
<circle cx="1901.0" cy="718.8" r="1.3" fill="#FFF9D6"/>
<circle cx="1912.1" cy="726.1" r="1.3" fill="#FFF9D6"/>
</g>
<rect x="1700" y="608" width="292" height="388" filter="url(#grain)" opacity="0.08"/>
<rect x="1700" y="608" width="292" height="120" filter="url(#grainL)" opacity="0.12"/>
<rect x="1939" y="966" width="34" height="9.8" fill="#ffffff"/>
<text x="1952" y="956.8" font-size="22" fill="#ffffff" text-anchor="middle" textLength="51" lengthAdjust="spacingAndGlyphs">1mm</text>
</g>
<rect x="1410.5" y="549.5" width="580" height="443.8" fill="none" stroke="#000" stroke-width="5"/>
<path d="M1410 609.3 H1991" stroke="#000" stroke-width="4.6" fill="none"/>
<path d="M1700.6 549 V994" stroke="#000" stroke-width="4.8" fill="none"/>
<text x="1554" y="589" font-size="29.6" fill="#767171" text-anchor="middle">Standard cecums</text>
<text x="1846.2" y="589" font-size="29.3" fill="#ED7D31" text-anchor="middle">Ketogenic cecums</text>
</g>
</svg>
</body>
</html>
